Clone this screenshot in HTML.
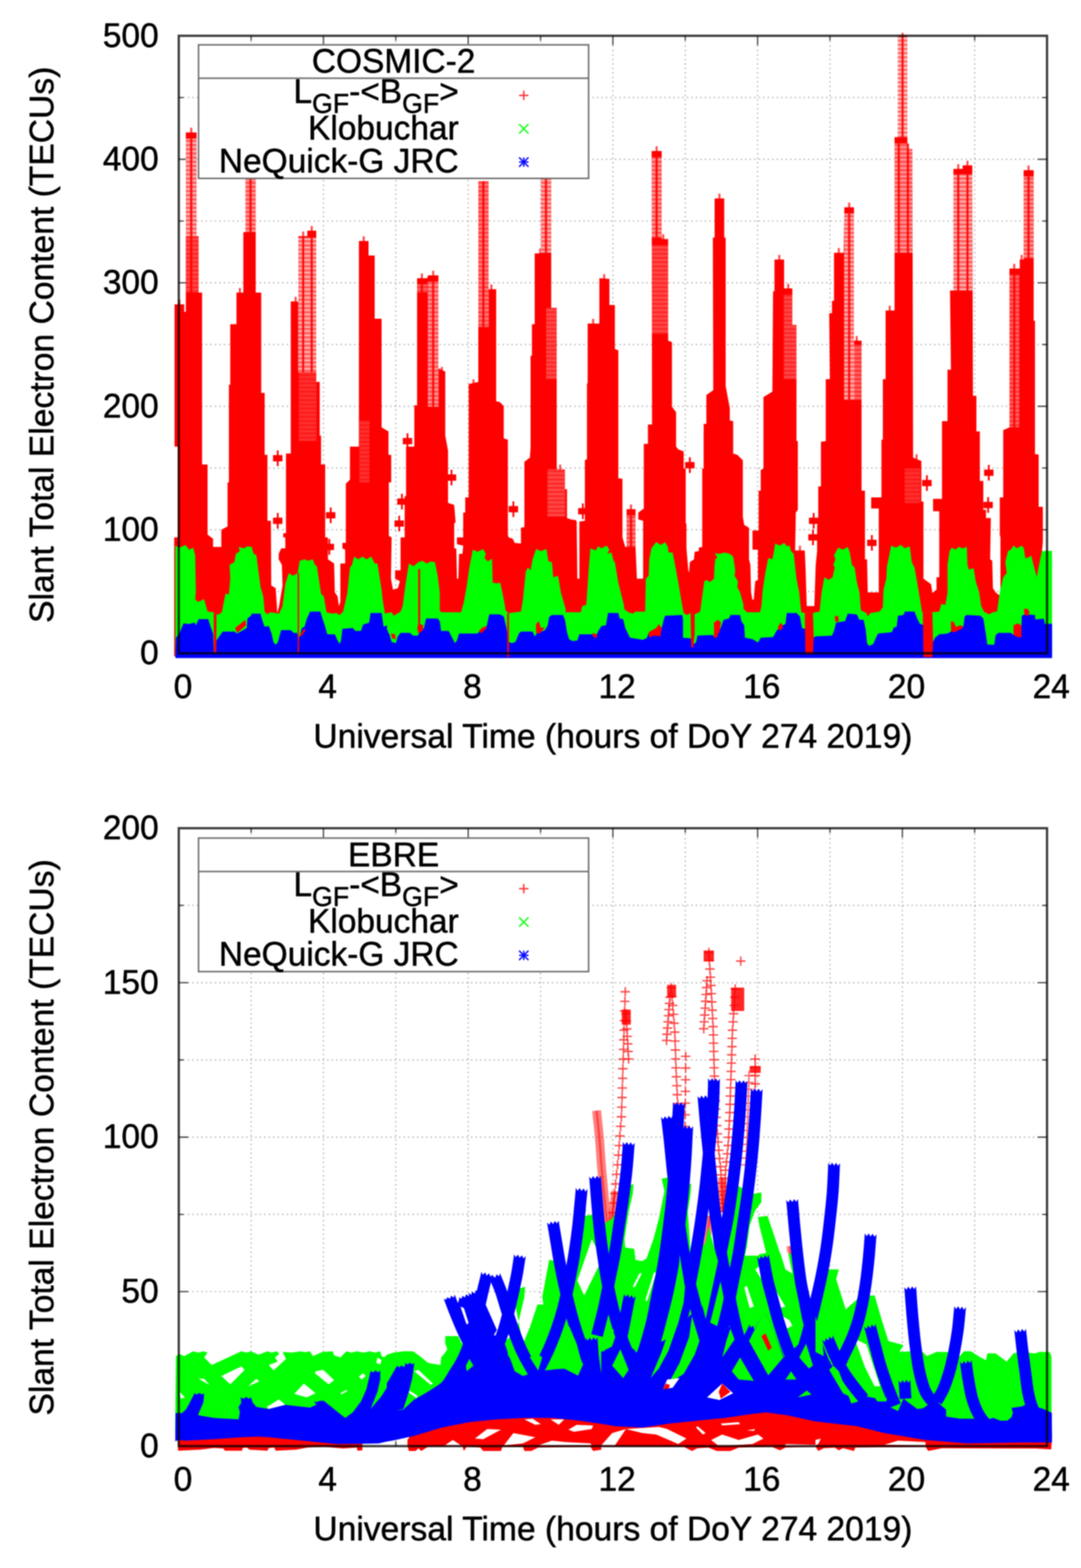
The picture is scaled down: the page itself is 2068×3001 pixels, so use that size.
<!DOCTYPE html>
<html lang="en"><head><meta charset="utf-8"><title>Slant Total Electron Content - COSMIC-2 and EBRE</title>
<style>html,body{margin:0;padding:0;background:#fff}body{width:2068px;height:3001px;overflow:hidden}svg{display:block;font-family:'Liberation Sans', sans-serif;filter:blur(1.1px)}</style></head><body>
<svg width="2068" height="3001" viewBox="0 0 2068 3001">
<defs><pattern id="st" width="8" height="8" patternUnits="userSpaceOnUse"><rect width="8" height="8" fill="#fff" fill-opacity="0.55"/><rect y="0" width="8" height="3.4" fill="#fff"/></pattern></defs>
<rect width="2068" height="3001" fill="#fff"/>
<g id="panel-top">
<g stroke="#acacac" stroke-width="2.2" stroke-dasharray="2.6 6" fill="none">
<path d="M480.4 1250.3 V68.5"/>
<path d="M618.8 1250.3 V68.5"/>
<path d="M757.2 1250.3 V68.5"/>
<path d="M895.7 1250.3 V68.5"/>
<path d="M1034.1 1250.3 V68.5"/>
<path d="M1172.5 1250.3 V68.5"/>
<path d="M1310.9 1250.3 V68.5"/>
<path d="M1449.3 1250.3 V68.5"/>
<path d="M1587.8 1250.3 V68.5"/>
<path d="M1726.2 1250.3 V68.5"/>
<path d="M1864.6 1250.3 V68.5"/>
<path d="M342 1132.1 H2003"/>
<path d="M342 1013.9 H2003"/>
<path d="M342 895.8 H2003"/>
<path d="M342 777.6 H2003"/>
<path d="M342 659.4 H2003"/>
<path d="M342 541.2 H2003"/>
<path d="M342 423 H2003"/>
<path d="M342 304.9 H2003"/>
<path d="M342 186.7 H2003"/>
</g>
<g stroke="#505050" stroke-width="2.6" fill="none">
<path d="M480.4 1250.3 v-9 M480.4 68.5 v9"/>
<path d="M618.8 1250.3 v-18 M618.8 68.5 v18"/>
<path d="M757.2 1250.3 v-9 M757.2 68.5 v9"/>
<path d="M895.7 1250.3 v-18 M895.7 68.5 v18"/>
<path d="M1034.1 1250.3 v-9 M1034.1 68.5 v9"/>
<path d="M1172.5 1250.3 v-18 M1172.5 68.5 v18"/>
<path d="M1310.9 1250.3 v-9 M1310.9 68.5 v9"/>
<path d="M1449.3 1250.3 v-18 M1449.3 68.5 v18"/>
<path d="M1587.8 1250.3 v-9 M1587.8 68.5 v9"/>
<path d="M1726.2 1250.3 v-18 M1726.2 68.5 v18"/>
<path d="M1864.6 1250.3 v-9 M1864.6 68.5 v9"/>
<path d="M342 1132.1 h9 M2003 1132.1 h-9"/>
<path d="M342 1013.9 h18 M2003 1013.9 h-18"/>
<path d="M342 895.8 h9 M2003 895.8 h-9"/>
<path d="M342 777.6 h18 M2003 777.6 h-18"/>
<path d="M342 659.4 h9 M2003 659.4 h-9"/>
<path d="M342 541.2 h18 M2003 541.2 h-18"/>
<path d="M342 423 h9 M2003 423 h-9"/>
<path d="M342 304.9 h18 M2003 304.9 h-18"/>
<path d="M342 186.7 h9 M2003 186.7 h-9"/>
</g>
<g id="top-data">
<polygon fill="#ff0000" points="333.2,1257.4 333.2,1028.4 340,1028.4 340,854.7 333.9,854.7 333.9,582.4 352.4,582.4 352.4,596.8 355.5,596.8 355.5,253.4 376.1,253.4 376.1,452.1 380,452.1 380,560 386.6,560 386.6,888.9 397.1,888.9 397.1,1023.2 407.6,1031.1 407.6,1046.8 423.4,1046.8 423.4,1013.9 435.3,1007.4 435.3,923.2 437.9,923.2 437.9,736.3 440.5,736.3 440.5,620.5 452.4,620.5 452.4,560 465.5,560 465.5,444.2 469.5,444.2 469.5,323.2 489.2,323.2 489.2,560 499.7,560 499.7,752.1 506.3,752.1 506.3,870.5 511.6,870.5 511.6,996.8 518.2,996.8 518.9,1120.5 527.4,1125.8 530.5,1173.2 533.9,1160 540.5,1120.5 539.2,1081.1 533.2,1070.5 533.2,1060 537.9,1049.5 545.8,1049.5 545.8,1028.4 541.8,1028.4 541.8,1020.5 547.1,1020.5 547.1,867.9 556.3,867.9 556.3,577.1 570.8,577.1 570.8,452.1 587.9,452.1 587.9,441.6 605,441.6 605,731.1 611.6,731.1 611.6,833.7 614.2,833.7 614.2,888.9 622.1,888.9 622.1,1028.4 627.4,1028.4 627.4,1070.5 639.2,1078.4 640.5,1133.7 645.8,1141.6 648.4,1160 651.1,1152.1 651.1,1078.4 660.3,1078.4 660.3,1052.1 655,1049.5 655,1038.9 661.6,1038.9 661.6,925.8 669.5,917.9 669.5,854.7 686.6,854.7 686.6,461.3 705,461.3 705,488.9 716.8,488.9 716.8,610 730,610 730,817.9 743.2,825.8 743.2,870.5 748.4,870.5 748.4,923.2 743.9,923.2 743.9,1025.8 749.2,1028.4 747.9,1107.4 751.8,1128.4 761.1,1125.8 765,1112.6 755.8,1107.4 755.8,1091.6 766.3,1091.6 766.3,1028.4 774.2,1028.4 774.2,949.5 776.8,949.5 776.8,854.7 792.6,854.7 792.6,775.8 797.9,775.8 797.9,532.4 817.1,532.4 818.9,527.1 838.7,527.1 838.7,704.7 851.8,711.3 851.8,833.7 857.1,862.6 857.1,962.6 868.9,966.6 871.6,999.5 868.9,1002.1 868.9,1049.5 872.9,1049.5 874.2,1107.4 876.8,1107.4 878.2,1060 884.7,1060 886.1,1044.2 874.2,1041.6 874.2,1028.4 886.1,1028.4 886.1,981.1 890,981.1 890,952.1 896.6,952.1 896.6,735 915,731.1 915,346.8 934.7,346.8 934.7,553.4 949.2,553.4 949.2,767.9 955.8,769.2 963.7,777.1 963.7,838.9 971.6,841.6 971.6,1023.2 972.9,1028.4 980.8,1031.1 984.7,1038.9 996.6,1040.3 996.6,1010 1003.2,1008.7 1003.2,883.7 1013.7,875.8 1015,857.4 1015,681.1 1017.6,681.1 1017.6,620.5 1022.9,620.5 1022.9,485 1034.7,485 1034.7,323.2 1054.5,323.2 1054.5,588.9 1065,588.9 1065,898.2 1080.8,898.2 1080.8,936.3 1084.7,936.3 1084.7,991.6 1092.6,994.2 1101.8,995.5 1103.2,998.2 1104.5,1107.4 1108.4,1107.4 1108.4,998.2 1118.9,996.8 1118.9,881.1 1122.9,878.4 1122.9,733.7 1124.2,733.7 1124.2,619.2 1146.6,619.2 1146.6,532.4 1165.8,533.7 1165.8,583.7 1176.3,583.7 1176.3,667.9 1182.9,670.5 1182.9,915.3 1190.8,916.6 1190.8,1028.4 1196.1,1046.8 1198.7,1046.8 1198.7,974.5 1215.8,974.5 1215.8,1046.8 1218.4,1107.4 1230.3,1107.4 1230.3,996.8 1221.1,994.2 1221.1,981.1 1231.6,973.2 1231.6,849.5 1239.5,849.5 1239.5,812.6 1247.4,812.6 1246.6,288.9 1265.8,288.9 1265.8,457.4 1278.2,457.4 1278.2,652.1 1285.5,654.7 1285.5,778.4 1293.4,788.9 1293.4,854.7 1297.4,860 1307.9,863.9 1307.9,896.8 1311.8,896.8 1311.8,1002.1 1313.2,1002.1 1313.2,1049.5 1317.1,1094.2 1318.4,1094.2 1319.7,1075.8 1327.6,1070.5 1328.9,1056.1 1336.8,1054.7 1336.8,1048.2 1343.4,1046.8 1343.4,896.8 1346.1,896.8 1346.1,811.3 1351.3,811.3 1351.3,756.1 1364.5,746.8 1363.7,454.7 1367.1,454.7 1367.1,379.7 1385.5,379.7 1385.5,454.7 1388.2,454.7 1388.2,738.9 1396.1,781.1 1396.1,804.7 1402.6,806.1 1402.6,867.9 1410.5,870.5 1421.1,881.1 1421.1,988.9 1423.7,1004.7 1432.9,1010 1432.9,1070.5 1435.5,1081.1 1436.8,1133.7 1439.5,1148.2 1442.1,1146.8 1444.7,1112.6 1450,1110 1450,1052.1 1439.5,1052.1 1439.5,1015.3 1451.3,1015.3 1451.3,938.9 1455.3,938.9 1455.3,899.5 1460.5,896.8 1460.5,760 1477.6,749.5 1478.9,557.4 1481.6,557.4 1481.6,496.8 1500,496.8 1500,552.1 1515.8,552.1 1515.8,621.8 1523.7,621.8 1523.7,844.2 1526.3,844.2 1526.3,975.8 1522.4,981.1 1521.1,1053.4 1539.5,1053.4 1540.8,1081.1 1543.4,1160 1557.9,1160 1560.5,1081.1 1563.2,1054.7 1563.2,1007.4 1565.3,994.2 1565.3,931.1 1570.5,931.1 1570.5,845.5 1579.7,844.2 1579.7,725.8 1587.6,725.8 1586.3,599.5 1591.6,599.5 1591.6,575.8 1595.5,575.8 1595.5,483.7 1613.9,483.7 1615.3,396.8 1633.7,396.8 1633.7,652.1 1648.2,652.1 1648.2,938.9 1654.7,938.9 1654.7,1070.5 1658.7,1070.5 1660,1133.7 1681.1,1133.7 1681.1,973.2 1666.6,973.2 1666.6,952.1 1686.3,952.1 1686.3,841.6 1688.9,841.6 1688.9,725.8 1694.2,725.8 1694.2,594.2 1711.3,594.2 1711.3,262.6 1717.4,262.6 1717.4,67.4 1735.8,67.4 1735.8,285 1745.5,285 1746.8,875.8 1753.4,878.4 1762.6,882.4 1762.6,960 1766.6,960 1766.6,1107.4 1781.1,1117.9 1783.7,1135 1791.6,1128.4 1791.6,1104.7 1796.8,1104.7 1796.8,978.4 1785,978.4 1785,954.7 1802.1,954.7 1802.1,806.1 1812.6,806.1 1812.6,707.4 1819.2,707.4 1817.4,556.1 1823.9,556.1 1823.9,323.2 1841.6,323.2 1841.6,316.6 1860,316.6 1861.3,757.4 1867.9,757.4 1867.9,825.8 1874.5,825.8 1874.5,920.5 1881.1,920.5 1881.1,975.8 1886.3,975.8 1886.3,991.6 1895.5,991.6 1894.2,1070.5 1898.2,1073.2 1899.5,1125.8 1904.7,1133.7 1911.3,1138.9 1913.9,1138.9 1913.9,1028.4 1912.6,1023.2 1912.6,952.1 1919.2,952.1 1919.2,823.2 1931.1,817.9 1931.1,513.9 1950.8,513.9 1950.8,496.8 1958.2,496.8 1958.2,325.8 1977.5,325.8 1977.5,614 1980,614 1980,869 1987,870 1987,970 1995,970 1995,1037 1993,1060 1993,1256 1993,1256 333.2,1256"/>
<g fill="#ff0000">
<path d="M522.3 871.1 h18 v12 h-18z M529.6 862.1 h3.4 v30 h-3.4z"/>
<path d="M522.3 990.8 h18 v12 h-18z M529.6 981.8 h3.4 v30 h-3.4z"/>
<path d="M623.6 980.3 h18 v12 h-18z M630.9 971.3 h3.4 v30 h-3.4z"/>
<path d="M621 1040.8 h18 v12 h-18z M628.3 1031.8 h3.4 v30 h-3.4z"/>
<path d="M770.5 838.2 h18 v12 h-18z M777.8 829.2 h3.4 v30 h-3.4z"/>
<path d="M759.9 954 h18 v12 h-18z M767.2 945 h3.4 v30 h-3.4z"/>
<path d="M754.7 996.1 h18 v12 h-18z M762 987.1 h3.4 v30 h-3.4z"/>
<path d="M854.7 907.9 h18 v12 h-18z M862 898.9 h3.4 v30 h-3.4z"/>
<path d="M973.1 968.5 h18 v12 h-18z M980.4 959.5 h3.4 v30 h-3.4z"/>
<path d="M1106 972.4 h18 v12 h-18z M1113.3 963.4 h3.4 v30 h-3.4z"/>
<path d="M1310.7 884.3 h18 v12 h-18z M1318 875.3 h3.4 v30 h-3.4z"/>
<path d="M1547.6 990.8 h18 v12 h-18z M1554.9 981.8 h3.4 v30 h-3.4z"/>
<path d="M1546.3 1022.4 h18 v12 h-18z M1553.6 1013.4 h3.4 v30 h-3.4z"/>
<path d="M1658.9 1032.9 h18 v12 h-18z M1666.2 1023.9 h3.4 v30 h-3.4z"/>
<path d="M1764.2 918.5 h18 v12 h-18z M1771.5 909.5 h3.4 v30 h-3.4z"/>
<path d="M1882.6 898.7 h18 v12 h-18z M1889.9 889.7 h3.4 v30 h-3.4z"/>
<path d="M1881.3 960.6 h18 v12 h-18z M1888.6 951.6 h3.4 v30 h-3.4z"/>
</g>
<g fill="#ff0000" fill-opacity="0.7">
<rect x="1724.6" y="62.8" width="4" height="10"/>
<rect x="363.8" y="244.4" width="4" height="10"/>
<rect x="578" y="443.1" width="4" height="10"/>
<rect x="594.3" y="432.6" width="4" height="10"/>
<rect x="693.8" y="452.3" width="4" height="10"/>
<rect x="341.2" y="573.4" width="4" height="10"/>
<rect x="456.9" y="551" width="4" height="10"/>
<rect x="563.5" y="568.1" width="4" height="10"/>
<rect x="805.1" y="523.4" width="4" height="10"/>
<rect x="826.7" y="518.1" width="4" height="10"/>
<rect x="938" y="544.4" width="4" height="10"/>
<rect x="1031.4" y="476" width="4" height="10"/>
<rect x="1132.7" y="610.2" width="4" height="10"/>
<rect x="903.8" y="726" width="4" height="10"/>
<rect x="843.3" y="702.3" width="4" height="10"/>
<rect x="1069.6" y="889.2" width="4" height="10"/>
<rect x="1153.8" y="524.7" width="4" height="10"/>
<rect x="1254.1" y="279.9" width="4" height="10"/>
<rect x="1266.7" y="448.4" width="4" height="10"/>
<rect x="1374.3" y="370.7" width="4" height="10"/>
<rect x="1488.8" y="487.8" width="4" height="10"/>
<rect x="1505.9" y="543.1" width="4" height="10"/>
<rect x="1205.1" y="965.5" width="4" height="10"/>
<rect x="1528.3" y="1044.4" width="4" height="10"/>
<rect x="1602.7" y="474.7" width="4" height="10"/>
<rect x="1622.5" y="387.8" width="4" height="10"/>
<rect x="1717.5" y="253.6" width="4" height="10"/>
<rect x="1700.1" y="585.2" width="4" height="10"/>
<rect x="1831.2" y="314.2" width="4" height="10"/>
<rect x="1848.8" y="307.6" width="4" height="10"/>
<rect x="1824.3" y="547.1" width="4" height="10"/>
<rect x="1965.6" y="316.8" width="4" height="10"/>
<rect x="1938.3" y="504.9" width="4" height="10"/>
<rect x="1952.5" y="487.8" width="4" height="10"/>
<rect x="1636.9" y="643.1" width="4" height="10"/>
<rect x="1751.4" y="869.4" width="4" height="10"/>
</g>
<rect x="355" y="265.3" width="21.5" height="186.8" fill="url(#st)" opacity="0.7"/>
<rect x="363.8" y="265.3" width="4" height="186.8" fill="#ff0000" fill-opacity="0.9"/>
<rect x="355.8" y="452.1" width="24.7" height="107.9" fill="url(#st)" opacity="0.3"/>
<rect x="363.8" y="452.1" width="4" height="107.9" fill="#ff0000" fill-opacity="0.9"/>
<rect x="469" y="341.6" width="20.7" height="102.6" fill="url(#st)" opacity="0.6"/>
<rect x="477.2" y="341.6" width="4" height="102.6" fill="#ff0000" fill-opacity="0.9"/>
<rect x="570.3" y="454.7" width="35.2" height="257.9" fill="url(#st)" opacity="0.7"/>
<rect x="578" y="454.7" width="4" height="257.9" fill="#ff0000" fill-opacity="0.9"/>
<rect x="594.3" y="454.7" width="4" height="257.9" fill="#ff0000" fill-opacity="0.9"/>
<rect x="571.6" y="712.6" width="33.9" height="131.6" fill="url(#st)" opacity="0.2"/>
<rect x="687.4" y="804.7" width="19.4" height="118.4" fill="url(#st)" opacity="0.2"/>
<rect x="797.4" y="544.2" width="20.2" height="15.8" fill="url(#st)" opacity="0.4"/>
<rect x="805.1" y="544.2" width="4" height="15.8" fill="#ff0000" fill-opacity="0.9"/>
<rect x="818.4" y="538.9" width="20.7" height="239.5" fill="url(#st)" opacity="0.6"/>
<rect x="826.7" y="538.9" width="4" height="239.5" fill="#ff0000" fill-opacity="0.9"/>
<rect x="914.5" y="346.8" width="20.7" height="278.9" fill="url(#st)" opacity="0.5"/>
<rect x="922.7" y="346.8" width="4" height="278.9" fill="#ff0000" fill-opacity="0.9"/>
<rect x="1034.2" y="342.9" width="20.7" height="140.8" fill="url(#st)" opacity="0.7"/>
<rect x="1042.5" y="342.9" width="4" height="140.8" fill="#ff0000" fill-opacity="0.9"/>
<rect x="1044.8" y="588.9" width="20.7" height="136.8" fill="url(#st)" opacity="0.3"/>
<rect x="1047.4" y="898.2" width="33.9" height="90.8" fill="url(#st)" opacity="0.3"/>
<rect x="1246.1" y="300.8" width="20.2" height="153.9" fill="url(#st)" opacity="0.6"/>
<rect x="1254.1" y="300.8" width="4" height="153.9" fill="#ff0000" fill-opacity="0.9"/>
<rect x="1246.1" y="469.2" width="32.6" height="169.7" fill="url(#st)" opacity="0.3"/>
<rect x="1499.5" y="563.9" width="24.7" height="161.8" fill="url(#st)" opacity="0.3"/>
<rect x="1198.2" y="986.3" width="18.1" height="60.5" fill="url(#st)" opacity="0.5"/>
<rect x="1205.1" y="986.3" width="4" height="60.5" fill="#ff0000" fill-opacity="0.9"/>
<rect x="1614.8" y="408.7" width="19.4" height="356.6" fill="url(#st)" opacity="0.7"/>
<rect x="1622.5" y="408.7" width="4" height="356.6" fill="#ff0000" fill-opacity="0.9"/>
<rect x="1633.2" y="660" width="15.5" height="105.3" fill="url(#st)" opacity="0.4"/>
<rect x="1716.9" y="67.4" width="19.4" height="195.3" fill="url(#st)" opacity="0.8"/>
<rect x="1724.6" y="67.4" width="4" height="195.3" fill="#ff0000" fill-opacity="0.9"/>
<rect x="1710.8" y="274.5" width="35.2" height="209.2" fill="url(#st)" opacity="0.6"/>
<rect x="1717.5" y="274.5" width="4" height="209.2" fill="#ff0000" fill-opacity="0.9"/>
<rect x="1734.8" y="274.5" width="4" height="209.2" fill="#ff0000" fill-opacity="0.9"/>
<rect x="1823.4" y="333.7" width="37.1" height="222.4" fill="url(#st)" opacity="0.7"/>
<rect x="1831.2" y="333.7" width="4" height="222.4" fill="#ff0000" fill-opacity="0.9"/>
<rect x="1848.8" y="333.7" width="4" height="222.4" fill="#ff0000" fill-opacity="0.9"/>
<rect x="1957.7" y="337.6" width="19.9" height="156.6" fill="url(#st)" opacity="0.6"/>
<rect x="1965.6" y="337.6" width="4" height="156.6" fill="#ff0000" fill-opacity="0.9"/>
<rect x="1930.6" y="525.8" width="19.4" height="292.1" fill="url(#st)" opacity="0.4"/>
<rect x="1938.3" y="525.8" width="4" height="292.1" fill="#ff0000" fill-opacity="0.9"/>
<rect x="1730.6" y="896.8" width="29.9" height="65.8" fill="url(#st)" opacity="0.2"/>
<polygon fill="#00ff00" points="335.5,1256 335.3,1044.2 343.2,1048.2 355,1042.9 361.6,1052.1 369.5,1048.2 373.4,1062.6 374.7,1133.7 373.4,1146.8 378.7,1152.1 390.5,1146.8 397.1,1170.5 408.9,1171.8 411.6,1175.8 419.5,1175.8 424.7,1170.5 431.3,1136.3 437.9,1137.6 440.5,1107.4 439.2,1081.1 448.4,1075.8 451.1,1060 458.9,1054.7 456.3,1046.8 466.8,1049.5 473.4,1045.5 481.3,1046.8 485.3,1060 490.5,1062.6 498.4,1123.2 503.7,1141.6 506.3,1170.5 511.6,1175.8 516.8,1171.8 527.4,1173.2 533.9,1174.5 540.5,1160 545.8,1117.9 552.4,1096.8 560.3,1102.1 569.5,1096.8 573.4,1073.2 582.6,1070.5 589.2,1073.2 598.4,1070.5 602.4,1081.1 606.3,1083.7 614.2,1136.3 619.5,1141.6 624.7,1171.8 635.3,1174.5 643.2,1173.2 649.7,1177.1 656.3,1170.5 664.2,1136.3 669.5,1086.3 673.4,1081.1 677.4,1065.3 685.3,1070.5 693.2,1065.3 701.1,1070.5 710.3,1065.3 716.8,1078.4 722.1,1078.4 730,1128.4 732.6,1152.1 736.6,1174.5 740,1173.2 749.2,1171.8 753.2,1178.4 766.3,1170.5 770.3,1160 775.5,1120.5 782.1,1078.4 791.3,1083.7 800.5,1075.8 808.4,1073.2 816.3,1078.4 824.2,1074.5 832.1,1075.8 837.4,1102.1 841.3,1133.7 841.3,1167.9 843.9,1171.8 882.1,1171.8 887.4,1152.1 892.6,1123.2 897.9,1086.3 904.5,1052.1 913.7,1056.1 924.2,1050.8 929.5,1060 926.8,1067.9 933.4,1074.5 941.3,1069.2 942.6,1115.3 950.5,1116.6 957.1,1115.3 963.7,1146.8 967.6,1169.2 974.2,1173.2 996.6,1170.5 1000.5,1146.8 1005.8,1094.2 1009.7,1086.3 1015,1091.6 1018.9,1070.5 1025.5,1050.8 1034.7,1054.7 1045.3,1050.8 1049.2,1074.5 1055.8,1075.8 1058.4,1104.7 1067.6,1102.1 1072.9,1133.7 1082.1,1165.3 1082.1,1171.8 1111.1,1171.8 1113.7,1160 1121.6,1157.4 1126.8,1081.1 1129.5,1049.5 1140,1053.4 1143.9,1045.5 1150.5,1049.5 1160.5,1044.2 1165.8,1052.1 1161.8,1060 1169.7,1057.4 1173.7,1073.2 1176.3,1075.8 1182.9,1115.3 1193.4,1157.4 1194.7,1166.6 1202.6,1171.8 1210.5,1174.5 1215.8,1170.5 1234.2,1170.5 1235.5,1107.4 1240.8,1102.1 1242.1,1070.5 1246.1,1049.5 1255.3,1037.6 1264.5,1042.9 1272.4,1037.6 1277.6,1046.8 1278.9,1057.4 1286.8,1057.4 1293.4,1091.6 1300,1128.4 1305.3,1160 1307.9,1173.2 1314.5,1177.1 1321.1,1173.2 1328.9,1175.8 1339.5,1170.5 1343.4,1141.6 1347.4,1112.6 1351.3,1110 1357.9,1113.9 1365.8,1107.4 1367.1,1081.1 1368.4,1070.5 1372.4,1066.6 1367.1,1058.7 1376.3,1060 1386.8,1057.4 1396.1,1060 1402.6,1065.3 1406.6,1091.6 1405.3,1102.1 1411.8,1112.6 1410.5,1123.2 1415.8,1133.7 1422.4,1157.4 1422.4,1165.3 1428.9,1171.8 1453.9,1171.8 1456.6,1160 1459.2,1128.4 1464.5,1094.2 1469.7,1067.9 1477.6,1070.5 1480.3,1057.4 1482.9,1040.3 1492.1,1044.2 1500,1038.9 1505.3,1045.5 1510.5,1044.2 1513.2,1054.7 1518.4,1060 1523.7,1107.4 1528.9,1133.7 1531.6,1160 1532.9,1171.8 1539.5,1173.2 1555.3,1173.2 1560,1171.8 1567.9,1170.5 1571.8,1133.7 1577.1,1104.7 1585,1110 1592.9,1104.7 1596.8,1086.3 1594.2,1081.1 1598.2,1070.5 1595.5,1062.6 1603.4,1048.2 1612.6,1052.1 1621.8,1046.8 1625.8,1057.4 1629.7,1081.1 1635,1086.3 1638.9,1112.6 1644.2,1133.7 1646.8,1167.9 1657.4,1173.2 1660,1179.7 1665.3,1173.2 1682.4,1170.5 1688.9,1162.6 1690.3,1128.4 1695.5,1107.4 1696.8,1083.7 1700.8,1065.3 1704.7,1044.2 1713.9,1048.2 1723.2,1042.9 1731.1,1049.5 1740.3,1045.5 1744.2,1075.8 1749.5,1086.3 1756.1,1123.2 1761.3,1154.7 1763.9,1171.8 1783.7,1171.8 1796.8,1170.5 1800.8,1156.1 1808.7,1157.4 1812.6,1133.7 1812.6,1081.1 1816.6,1054.7 1820.5,1048.2 1828.4,1052.1 1833.7,1046.8 1841.6,1049.5 1849.5,1046.8 1850.8,1081.1 1853.4,1090.3 1862.6,1087.6 1866.6,1112.6 1873.2,1133.7 1877.1,1160 1882.4,1170.5 1891.6,1175.8 1899.5,1171.8 1907.4,1170.5 1912.6,1133.7 1919.2,1104.7 1925.8,1096.8 1923.2,1075.8 1928.4,1054.7 1933.7,1052.1 1938.9,1044.2 1945.5,1049.5 1954.7,1044.2 1958.7,1049.5 1961.3,1067.9 1966.6,1067.2 1972.8,1063.6 1977.2,1081.3 1983.4,1104.3 1987.8,1081.3 1993.1,1054.8 2012.6,1053.9 2012.6,1256"/>
<polygon fill="#0000ff" points="335.5,1259.5 336.6,1220.5 343.2,1212.6 351.1,1192.9 361.6,1194.2 372.1,1191.6 374.7,1196.8 380,1185 398.4,1185 403.7,1202.1 407.6,1212.6 408.9,1249.5 412.9,1249.5 414.2,1225.8 419.5,1217.9 426.1,1208.7 448.4,1208.7 453.7,1212.6 472.1,1202.1 473.4,1183.7 480,1178.4 481.3,1174.5 498.4,1174.5 502.4,1188.9 506.3,1199.5 514.2,1198.2 519.5,1212.6 523.4,1229.7 527.4,1233.7 531.3,1229.7 537.9,1206.1 556.3,1206.1 561.6,1211.3 568.2,1211.3 570.8,1223.2 573.4,1217.9 577.4,1202.1 582.6,1199.5 586.6,1185 593.2,1170.5 612.9,1170.5 616.8,1183.7 622.1,1199.5 626.1,1213.9 640.5,1213.9 645.8,1225.8 649.7,1232.4 652.4,1225.8 655,1203.4 674.7,1202.1 680,1207.4 690.5,1207.4 694.5,1195.5 706.3,1191.6 708.9,1173.2 730,1173.2 733.9,1199.5 740.5,1196.8 740,1203.4 745.3,1215.3 749.2,1228.4 757.1,1231.1 761.1,1217.9 766.3,1211.3 784.7,1211.3 790,1216.6 799.2,1216.6 803.2,1210 811.1,1202.1 815,1183.7 837.4,1183.7 841.3,1188.9 843.9,1207.4 858.4,1207.4 863.7,1217.9 870.3,1231.1 874.2,1225.8 878.2,1212.6 913.7,1212.6 921.6,1203.4 930.8,1199.5 936.1,1175.8 955.8,1175.8 963.7,1179.7 968.9,1202.1 972.9,1228.4 979.5,1231.1 986.1,1228.4 992.6,1212.6 996.6,1208.7 1018.9,1208.7 1022.9,1217.9 1026.8,1212.6 1042.6,1206.1 1047.9,1196.8 1050.5,1181.1 1055.8,1177.1 1076.8,1177.1 1080.8,1186.3 1084.7,1210 1088.7,1223.2 1095.3,1227.1 1104.5,1225.8 1108.4,1213.9 1132.1,1213.9 1140,1217.9 1143.9,1208.7 1150.5,1198.2 1150,1198.2 1159.2,1196.8 1163.2,1173.2 1182.9,1173.2 1185.5,1183.7 1192.1,1185 1196.1,1202.1 1202.6,1215.3 1205.3,1220.5 1228.9,1224.5 1236.8,1221.8 1240.8,1212.6 1265.8,1202.1 1269.7,1186.3 1272.4,1178.4 1305.3,1177.1 1306.6,1186.3 1306.6,1220.5 1321.1,1221.8 1325,1233.7 1331.6,1229.7 1334.2,1216.6 1363.2,1215.3 1368.4,1220.5 1378.9,1202.1 1384.2,1186.3 1394.7,1183.7 1397.4,1177.1 1415.8,1177.1 1418.4,1188.9 1423.7,1196.8 1425,1220.5 1439.5,1223.2 1450,1229.7 1455.3,1220.5 1478.9,1219.2 1485.5,1207.4 1492.1,1199.5 1502.6,1194.2 1505.3,1173.2 1523.7,1173.2 1530.3,1179.7 1534.2,1202.1 1539.5,1203.4 1556.6,1220.5 1560,1217.9 1591.6,1216.6 1595.5,1207.4 1599.5,1191.6 1616.6,1188.9 1621.8,1174.5 1638.9,1175.8 1644.2,1186.3 1652.1,1186.3 1656.1,1204.7 1658.7,1231.1 1662.6,1236.3 1670.5,1232.4 1675.8,1220.5 1679.7,1212.6 1706.1,1210 1710,1200.8 1715.3,1199.5 1717.9,1178.4 1728.4,1177.1 1731.1,1170.5 1749.5,1170.5 1754.7,1183.7 1760,1194.2 1765.3,1195.5 1785,1228.4 1788.9,1220.5 1796.8,1213.9 1812.6,1212.6 1819.2,1208.7 1831.1,1204.7 1836.3,1196.8 1842.9,1199.5 1845.5,1179.7 1849.5,1177.1 1875.8,1178.4 1881.1,1183.7 1885,1207.4 1888.9,1233.7 1902.1,1233.7 1904.7,1215.3 1910,1211.3 1933.7,1211.3 1938.9,1215.3 1953.4,1217.9 1954.7,1178.4 1960,1175.8 1980,1177.1 1980.7,1185.8 1996.7,1184 1999.3,1194.6 2012.6,1193.7 2012.6,1259.5"/>
<g fill="#ff0000">
<polygon points="408.9,1173.2 414.2,1173.2 413.7,1249.5 408.9,1249.5"/>
<polygon points="569.5,1096.8 572.1,1096.8 572.1,1249.5 569.5,1249.5"/>
<polygon points="449.7,1202.1 469.5,1186.3 470.8,1196.8 453.7,1211.3"/>
<polygon points="573.4,1215.3 582.6,1202.1 583.9,1207.4 576.1,1217.9"/>
<polygon points="800,1088.9 803.7,1088.9 803.7,1194.2 809.7,1196.8 808.4,1207.4 800.5,1212.6 798.4,1202.1 800,1194.2"/>
<polygon points="747.9,1212.6 755.8,1213.9 757.1,1223.2 750.5,1221.8"/>
<polygon points="970.3,1173.2 973.7,1173.2 973.7,1257.4 970.3,1257.4"/>
<polygon points="1025.5,1194.2 1030.8,1188.9 1034.7,1202.1 1042.6,1200.8 1032.1,1212.6 1025.5,1211.3"/>
<polygon points="1133.4,1211.3 1141.3,1213.9 1142.6,1220.5 1134.7,1219.2"/>
<polygon points="916.3,1207.4 921.6,1202.1 929.5,1198.2 930.8,1202.1 920.3,1212.6"/>
<polygon points="1321.1,1173.2 1328.9,1174.5 1328.9,1212.6 1326.3,1238.9 1322.4,1238.9"/>
<polygon points="1240.8,1210 1255.3,1202.1 1260.5,1194.2 1265.8,1202.1 1263.2,1217.9 1250,1216.6 1242.1,1220.5"/>
<polygon points="1365.8,1191.6 1373.7,1186.3 1378.9,1191.6 1377.6,1204.7 1371.1,1220.5 1365.8,1220.5"/>
<polygon points="1488.2,1199.5 1493.4,1191.6 1497.4,1196.8 1496.1,1204.7 1489.5,1206.1"/>
<polygon points="1539.5,1173.2 1555.3,1173.2 1556.6,1220.5 1555.3,1252.1 1540.8,1252.1"/>
<polygon points="1765.3,1171.8 1783.7,1171.8 1785,1228.4 1783.7,1257.4 1766.6,1257.4"/>
<polygon points="1596.8,1179.7 1603.4,1178.4 1604.7,1188.9 1598.2,1190.3"/>
<polygon points="1819.2,1188.9 1824.5,1190.3 1828.4,1199.5 1838.9,1196.8 1842.9,1202.1 1825.8,1210 1819.2,1208.7"/>
<polygon points="1938.9,1196.8 1946.8,1192.9 1953.4,1196.8 1953.4,1219.2 1938.9,1215.3"/>
<polygon points="1960,1166.6 1966.6,1165.3 1967.9,1177.1 1960,1177.1"/>
<polygon points="1940,1196.4 1947.1,1193.7 1953.3,1196.4 1954.2,1219.4 1948,1219.4 1940,1215.9"/>
<polygon points="1958.6,1166.3 1963,1164.5 1969.2,1169.8 1968.3,1176.9 1963,1178.7 1959.5,1173.4"/>
</g>
</g>
<rect x="342" y="68.5" width="1661" height="1181.8" fill="none" stroke="#3c3c3c" stroke-width="4.4" style="mix-blend-mode:multiply"/>
<g font-size="64" fill="#000" stroke="#000" stroke-width="0.9" stroke-linejoin="round">
<text x="303.5" y="1271.3" text-anchor="end">0</text>
<text x="303.5" y="1034.9" text-anchor="end">100</text>
<text x="303.5" y="798.6" text-anchor="end">200</text>
<text x="303.5" y="562.2" text-anchor="end">300</text>
<text x="303.5" y="325.9" text-anchor="end">400</text>
<text x="303.5" y="89.5" text-anchor="end">500</text>
<text x="350" y="1335.8" text-anchor="middle">0</text>
<text x="626.8" y="1335.8" text-anchor="middle">4</text>
<text x="903.7" y="1335.8" text-anchor="middle">8</text>
<text x="1180.5" y="1335.8" text-anchor="middle">12</text>
<text x="1457.3" y="1335.8" text-anchor="middle">16</text>
<text x="1734.2" y="1335.8" text-anchor="middle">20</text>
<text x="2011" y="1335.8" text-anchor="middle">24</text>
<text x="1172.5" y="1430.8" text-anchor="middle" font-size="64.3">Universal Time (hours of DoY 274 2019)</text>
<text transform="translate(101.5 659.9) rotate(-90)" text-anchor="middle" font-size="64.35">Slant Total Electron Content (TECUs)</text>
</g>
<g>
<rect x="379.8" y="85.8" width="746.2" height="255.6" fill="#fff" stroke="#707070" stroke-width="3"/>
<path d="M379.8 149.8 H1126" stroke="#707070" stroke-width="3" fill="none"/>
<g font-size="64" fill="#000" stroke="#000" stroke-width="0.9" stroke-linejoin="round">
<text x="753" y="139.4" text-anchor="middle">COSMIC-2</text>
<text x="877.5" y="197.1" text-anchor="end">L<tspan font-size="51" dy="19">GF</tspan><tspan dy="-19">-&lt;B</tspan><tspan font-size="51" dy="19">GF</tspan><tspan dy="-19">&gt;</tspan></text>
<text x="877.5" y="266.8" text-anchor="end">Klobuchar</text>
<text x="877.5" y="330" text-anchor="end">NeQuick-G JRC</text>
</g>
<path d="M993 182.6 h18 M1002 173.6 v18" stroke="#ff0000" stroke-width="2.8" stroke-opacity="0.8" fill="none"/>
<path d="M993 237.5 l18 18 M993 255.5 l18 -18" stroke="#00ff00" stroke-width="2.8" stroke-opacity="0.9" fill="none"/>
<path d="M993 310.2 h18 M1002 301.2 v18 M993 301.2 l18 18 M993 319.2 l18 -18" stroke="#0000ff" stroke-width="2.8" stroke-opacity="0.95" fill="none"/>
</g>
</g>
<g id="panel-bottom">
<g stroke="#acacac" stroke-width="2.2" stroke-dasharray="2.6 6" fill="none">
<path d="M480.4 2767.7 V1585.1"/>
<path d="M618.8 2767.7 V1585.1"/>
<path d="M757.2 2767.7 V1585.1"/>
<path d="M895.7 2767.7 V1585.1"/>
<path d="M1034.1 2767.7 V1585.1"/>
<path d="M1172.5 2767.7 V1585.1"/>
<path d="M1310.9 2767.7 V1585.1"/>
<path d="M1449.3 2767.7 V1585.1"/>
<path d="M1587.8 2767.7 V1585.1"/>
<path d="M1726.2 2767.7 V1585.1"/>
<path d="M1864.6 2767.7 V1585.1"/>
<path d="M342 2619.9 H2003"/>
<path d="M342 2472 H2003"/>
<path d="M342 2324.2 H2003"/>
<path d="M342 2176.4 H2003"/>
<path d="M342 2028.6 H2003"/>
<path d="M342 1880.8 H2003"/>
<path d="M342 1732.9 H2003"/>
</g>
<g stroke="#505050" stroke-width="2.6" fill="none">
<path d="M480.4 2767.7 v-9 M480.4 1585.1 v9"/>
<path d="M618.8 2767.7 v-18 M618.8 1585.1 v18"/>
<path d="M757.2 2767.7 v-9 M757.2 1585.1 v9"/>
<path d="M895.7 2767.7 v-18 M895.7 1585.1 v18"/>
<path d="M1034.1 2767.7 v-9 M1034.1 1585.1 v9"/>
<path d="M1172.5 2767.7 v-18 M1172.5 1585.1 v18"/>
<path d="M1310.9 2767.7 v-9 M1310.9 1585.1 v9"/>
<path d="M1449.3 2767.7 v-18 M1449.3 1585.1 v18"/>
<path d="M1587.8 2767.7 v-9 M1587.8 1585.1 v9"/>
<path d="M1726.2 2767.7 v-18 M1726.2 1585.1 v18"/>
<path d="M1864.6 2767.7 v-9 M1864.6 1585.1 v9"/>
<path d="M342 2619.9 h9 M2003 2619.9 h-9"/>
<path d="M342 2472 h18 M2003 2472 h-18"/>
<path d="M342 2324.2 h9 M2003 2324.2 h-9"/>
<path d="M342 2176.4 h18 M2003 2176.4 h-18"/>
<path d="M342 2028.6 h9 M2003 2028.6 h-9"/>
<path d="M342 1880.8 h18 M2003 1880.8 h-18"/>
<path d="M342 1732.9 h9 M2003 1732.9 h-9"/>
</g>
<g id="bottom-data">
<polygon fill="#ff0000" points="340.5,2742.8 693.2,2742.8 693.2,2775.7 683.9,2776.5 682.6,2770.4 656.3,2772.3 619.5,2769.1 587.9,2770.4 566.8,2774.4 527.4,2776.5 524.7,2770.4 514.2,2771.2 511.6,2776.5 477.4,2774.4 472.1,2770.4 464.2,2771.2 462.9,2776.5 430,2776.5 427.4,2772.3 408.9,2771.2 382.6,2774.4 340.5,2776.5"/>
<polygon fill="#ff0000" points="779.5,2755.9 779.5,2766.5 782.1,2777 795.3,2777 800.5,2771.7 805.8,2777 818.9,2769.1 884.7,2767.8 887.4,2777 892.6,2769.1 918.9,2770.4 924.2,2777 958.4,2777 961.1,2769.1 1000.5,2769.1 1003.2,2777 1016.3,2777 1029.5,2770.4 1129.5,2769.1 1134.7,2777 1150.5,2774.4 1150,2769.1 1307.9,2769.1 1323.7,2777 1334.2,2771.7 1355.3,2770.4 1371.1,2777 1397.4,2777 1413.2,2770.4 1476.3,2769.1 1492.1,2775.7 1502.6,2770.4 1560.5,2769.1 1565.3,2777 1575.8,2771.7 1596.8,2770.4 1604.7,2775.7 1612.6,2771.7 1633.7,2777 1636.3,2770.4 1770.5,2769.1 1775.8,2777 1802.1,2771.7 1928.4,2772.3 1980,2772.3 2011,2774 2012.5,2748.8 1954.7,2748.7 1849.5,2750.5 1770.5,2743.9 1691.6,2730.8 1638.9,2717.6 1560,2708.4 1505.3,2696.6 1465.8,2691.3 1439.5,2693.9 1386.8,2701.8 1334.2,2707.1 1281.6,2712.4 1228.9,2720.3 1176.3,2717.6 1150,2712.9 1108.4,2707.1 1055.8,2701.8 1003.2,2701.8 950.5,2704.5 897.9,2709.7 845.3,2720.3 792.6,2736.1"/>
<g fill="#fff">
<polygon points="908.4,2753.3 932.1,2734.9 958.4,2736.2 924.2,2754.6"/>
<polygon points="963.7,2766.5 982.1,2742.8 1024.2,2750.7 1000.5,2762.5"/>
<polygon points="1003.2,2716.5 1018.9,2715.2 1034.7,2725.7 1024.2,2727"/>
<polygon points="1053.2,2716.5 1079.5,2716.5 1068.9,2727"/>
<polygon points="1087.4,2736.2 1103.2,2727 1134.7,2728.3 1132.1,2734.9 1097.9,2740.2"/>
<polygon points="1029.5,2766.5 1055.8,2757.3 1082.1,2759.9 1129.5,2762.5 1132.1,2766.5"/>
<polygon points="850.5,2766.5 866.3,2755.9 882.1,2766.5"/>
<polygon points="1197.4,2734.9 1260.5,2730.9 1276.3,2734.9 1313.2,2753.3 1297.4,2763.8 1255.3,2745.4 1228.9,2742.8"/>
<polygon points="1150,2766.5 1171.1,2742.8 1197.4,2734.9 1176.3,2766.5"/>
<polygon points="1334.2,2729.6 1350,2742.8 1344.7,2745.4 1331.6,2732.3"/>
<polygon points="1360.5,2755.9 1381.6,2745.4 1413.2,2755.9 1450,2745.4 1460.5,2753.3 1439.5,2763.8 1397.4,2766.5 1373.7,2766.5"/>
<polygon points="1378.9,2724.4 1413.2,2721.7 1415.8,2725.7 1381.6,2728.3"/>
<polygon points="1428.9,2737.5 1444.7,2734.9 1442.1,2738.8"/>
<polygon points="1502.6,2763.8 1560.5,2765.2 1560.5,2767.8 1502.6,2767.8"/>
<polygon points="1691.6,2765.2 1717.9,2757.3 1770.5,2759.9 1770.5,2766.5"/>
<polygon points="1560,2755.9 1570.5,2753.3 1565.3,2763.8 1560,2766.5"/>
<polygon points="693.2,2765.2 708.9,2765.2 714.2,2769.1 693.2,2769.1"/>
</g>
<path d="M1187.1 1898.1h18M1196.1 1889.1v18M1186.5 1916.5h18M1195.5 1907.5v18M1185.9 1934.9h18M1194.9 1925.9v18M1185.4 1953.3h18M1194.4 1944.3v18M1184.8 1971.7h18M1193.8 1962.7v18M1184.3 1990.1h18M1193.3 1981.1v18M1183.7 2008.5h18M1192.7 1999.5v18M1183.2 2026.9h18M1192.2 2017.9v18M1182.6 2045.4h18M1191.6 2036.4v18M1182.1 2063.8h18M1191.1 2054.8v18M1181.5 2082.2h18M1190.5 2073.2v18M1181 2100.6h18M1190 2091.6v18M1180.4 2119h18M1189.4 2110v18M1179.8 2137.4h18M1188.8 2128.4v18M1178.3 2155.8h18M1187.3 2146.8v18M1176.9 2174.1h18M1185.9 2165.1v18M1175.5 2192.5h18M1184.5 2183.5v18M1174.1 2210.9h18M1183.1 2201.9v18M1172.4 2229.2h18M1181.4 2220.2v18M1170.5 2247.5h18M1179.5 2238.5v18M1168.7 2265.9h18M1177.7 2256.9v18M1166.9 2284.2h18M1175.9 2275.2v18M1165 2302.5h18M1174 2293.5v18M1163.2 2320.9h18M1172.2 2311.9v18" stroke="#ff0000" stroke-width="2.6" stroke-opacity="0.75" fill="none"/>
<path d="M1188.4 1940.2h18M1197.4 1931.2v18M1189.2 1954.6h18M1198.2 1945.6v18M1190.1 1969.1h18M1199.1 1960.1v18M1191 1983.5h18M1200 1974.5v18M1191.9 1997.9h18M1200.9 1988.9v18M1192.7 2012.4h18M1201.7 2003.4v18M1193.6 2026.8h18M1202.6 2017.8v18" stroke="#ff0000" stroke-width="2.6" stroke-opacity="0.75" fill="none"/>
<path d="M1275.2 1890.2h18M1284.2 1881.2v18M1276.6 1907.2h18M1285.6 1898.2v18M1278 1924.3h18M1287 1915.3v18M1279.3 1941.3h18M1288.3 1932.3v18M1280.7 1958.4h18M1289.7 1949.4v18M1281.9 1975.4h18M1290.9 1966.4v18M1282.5 1992.5h18M1291.5 1983.5v18M1283.1 2009.6h18M1292.1 2000.6v18M1283.6 2026.7h18M1292.6 2017.7v18M1284.2 2043.8h18M1293.2 2034.8v18M1284.9 2060.9h18M1293.9 2051.9v18M1285.8 2078h18M1294.8 2069v18M1286.6 2095.1h18M1295.6 2086.1v18M1287.5 2112.1h18M1296.5 2103.1v18M1288.3 2129.2h18M1297.3 2120.2v18M1288.6 2146.3h18M1297.6 2137.3v18M1288.9 2163.4h18M1297.9 2154.4v18M1289.2 2180.5h18M1298.2 2171.5v18M1289.4 2197.6h18M1298.4 2188.6v18M1289.7 2214.7h18M1298.7 2205.7v18M1290.1 2231.8h18M1299.1 2222.8v18M1290.6 2248.9h18M1299.6 2239.9v18M1291 2266h18M1300 2257v18M1291.3 2283.1h18M1300.3 2274.1v18M1291.6 2300.2h18M1300.6 2291.2v18M1291.8 2317.3h18M1300.8 2308.3v18M1292.1 2334.5h18M1301.1 2325.5v18" stroke="#ff0000" stroke-width="2.6" stroke-opacity="0.75" fill="none"/>
<path d="M1272.6 1908.6h18M1281.6 1899.6v18M1271.7 1920.4h18M1280.7 1911.4v18M1270.7 1932.2h18M1279.7 1923.2v18M1269.8 1944h18M1278.8 1935v18M1268.9 1955.8h18M1277.9 1946.8v18M1268 1967.6h18M1277 1958.6v18M1267 1979.4h18M1276 1970.4v18M1266.1 1991.2h18M1275.1 1982.2v18" stroke="#ff0000" stroke-width="2.6" stroke-opacity="0.75" fill="none"/>
<path d="M1302.8 2021.7h18M1311.8 2012.7v18M1302.7 2044.1h18M1311.7 2035.1v18M1302.5 2066.5h18M1311.5 2057.5v18M1302.3 2088.8h18M1311.3 2079.8v18M1302.1 2111.2h18M1311.1 2102.2v18M1301.9 2133.6h18M1310.9 2124.6v18M1301.7 2155.9h18M1310.7 2146.9v18M1301.5 2178.3h18M1310.5 2169.3v18M1300.7 2200.7h18M1309.7 2191.7v18" stroke="#ff0000" stroke-width="2.6" stroke-opacity="0.75" fill="none"/>
<path d="M1347.1 1823.1h18M1356.1 1814.1v18M1348.1 1838.8h18M1357.1 1829.8v18M1349.1 1854.6h18M1358.1 1845.6v18M1350.1 1870.3h18M1359.1 1861.3v18M1351.1 1886.1h18M1360.1 1877.1v18M1352 1901.8h18M1361 1892.8v18M1352.8 1917.6h18M1361.8 1908.6v18M1353.6 1933.4h18M1362.6 1924.4v18M1354.3 1949.2h18M1363.3 1940.2v18M1355.1 1964.9h18M1364.1 1955.9v18M1355.7 1980.7h18M1364.7 1971.7v18M1356.1 1996.5h18M1365.1 1987.5v18M1356.4 2012.3h18M1365.4 2003.3v18M1356.8 2028.1h18M1365.8 2019.1v18M1357.2 2043.8h18M1366.2 2034.8v18M1357.7 2059.6h18M1366.7 2050.6v18M1358.4 2075.4h18M1367.4 2066.4v18M1359.1 2091.2h18M1368.1 2082.2v18M1359.8 2106.9h18M1368.8 2097.9v18M1360.4 2122.7h18M1369.4 2113.7v18M1361.3 2138.5h18M1370.3 2129.5v18M1362.4 2154.2h18M1371.4 2145.2v18M1363.5 2170h18M1372.5 2161v18M1364.6 2185.7h18M1373.6 2176.7v18M1366.1 2201.5h18M1375.1 2192.5v18M1367.6 2217.2h18M1376.6 2208.2v18M1369.2 2232.9h18M1378.2 2223.9v18M1370.4 2248.6h18M1379.4 2239.6v18M1371.2 2264.4h18M1380.2 2255.4v18M1371.9 2280.2h18M1380.9 2271.2v18M1372.7 2295.9h18M1381.7 2286.9v18M1373.5 2311.7h18M1382.5 2302.7v18" stroke="#ff0000" stroke-width="2.6" stroke-opacity="0.75" fill="none"/>
<path d="M1343.6 1877h18M1352.6 1868v18M1342.7 1890.1h18M1351.7 1881.1v18M1341.8 1903.3h18M1350.8 1894.3v18M1340.9 1916.4h18M1349.9 1907.4v18M1340 1929.5h18M1349 1920.5v18M1339.1 1942.6h18M1348.1 1933.6v18M1338.2 1955.8h18M1347.2 1946.8v18M1337.3 1968.9h18M1346.3 1959.9v18" stroke="#ff0000" stroke-width="2.6" stroke-opacity="0.75" fill="none"/>
<path d="M1397.6 1892.8h18M1406.6 1883.8v18M1396.5 1908.5h18M1405.5 1899.5v18M1395.5 1924.3h18M1404.5 1915.3v18M1394.4 1940.1h18M1403.4 1931.1v18M1393.4 1955.8h18M1402.4 1946.8v18M1392.3 1971.6h18M1401.3 1962.6v18M1391.8 1987.3h18M1400.8 1978.3v18M1391.3 2003.1h18M1400.3 1994.1v18M1390.7 2018.9h18M1399.7 2009.9v18M1390.2 2034.7h18M1399.2 2025.7v18M1389.7 2050.5h18M1398.7 2041.5v18M1389.2 2066.2h18M1398.2 2057.2v18M1388.6 2082h18M1397.6 2073v18M1388.1 2097.8h18M1397.1 2088.8v18M1387.6 2113.6h18M1396.6 2104.6v18M1387.1 2129.4h18M1396.1 2120.4v18M1386.3 2145.1h18M1395.3 2136.1v18M1385.6 2160.9h18M1394.6 2151.9v18M1384.9 2176.7h18M1393.9 2167.7v18M1383.9 2192.4h18M1392.9 2183.4v18M1382.4 2208.2h18M1391.4 2199.2v18M1380.8 2223.9h18M1389.8 2214.9v18M1379.2 2239.6h18M1388.2 2230.6v18M1378.4 2255.3h18M1387.4 2246.3v18M1377.6 2271.1h18M1386.6 2262.1v18M1376.8 2286.9h18M1385.8 2277.9v18M1376 2302.7h18M1385 2293.7v18M1375.2 2318.4h18M1384.2 2309.4v18" stroke="#ff0000" stroke-width="2.6" stroke-opacity="0.75" fill="none"/>
<path d="M1435.7 2027h18M1444.7 2018v18M1435.7 2042.8h18M1444.7 2033.8v18M1435.7 2058.6h18M1444.7 2049.6v18M1435.7 2074.4h18M1444.7 2065.4v18" stroke="#ff0000" stroke-width="2.6" stroke-opacity="0.8" fill="none"/>
<path d="M1423.9 2058.6h18M1432.9 2049.6v18M1423.5 2071.7h18M1432.5 2062.7v18M1423.1 2084.9h18M1432.1 2075.9v18M1422.7 2098h18M1431.7 2089v18M1422.3 2111.2h18M1431.3 2102.2v18M1421.9 2124.3h18M1430.9 2115.3v18M1421.5 2137.5h18M1430.5 2128.5v18M1421.1 2150.6h18M1430.1 2141.6v18M1420.7 2163.8h18M1429.7 2154.8v18M1420.3 2176.9h18M1429.3 2167.9v18M1419.8 2190.1h18M1428.8 2181.1v18M1419.2 2203.2h18M1428.2 2194.2v18M1418.5 2216.4h18M1427.5 2207.4v18M1417.8 2229.5h18M1426.8 2220.5v18" stroke="#ff0000" stroke-width="2.6" stroke-opacity="0.6" fill="none"/>
<path d="M1408.1 1839.4h18M1417.1 1830.4v18" stroke="#ff0000" stroke-width="2.6" stroke-opacity="0.75" fill="none"/>
<path d="M1141.3 2125.7 C1142.2 2134.2 1145 2159.7 1146.6 2177 C1148.1 2194.3 1149 2211.2 1150.5 2229.6 C1152.1 2248.1 1153.6 2265.6 1155.8 2287.5 C1158 2309.5 1161.1 2340.2 1163.7 2361.2 C1166.3 2382.3 1170.3 2405.1 1171.6 2413.8" stroke="#ff0000" stroke-width="17" stroke-opacity="0.5" fill="none"/>
<path d="M1141.3 2125.7 C1142.2 2134.2 1145 2159.7 1146.6 2177 C1148.1 2194.3 1149 2211.2 1150.5 2229.6 C1152.1 2248.1 1153.6 2265.6 1155.8 2287.5 C1158 2309.5 1161.1 2340.2 1163.7 2361.2 C1166.3 2382.3 1170.3 2405.1 1171.6 2413.8" stroke="#ff0000" stroke-width="4" stroke-opacity="0.5" fill="none"/>
<path d="M1357.9 2327 C1357 2334.5 1354.8 2355.5 1352.6 2371.7 C1350.4 2388 1346.1 2415.6 1344.7 2424.4" stroke="#ff0000" stroke-width="14" stroke-opacity="0.5" fill="none"/>
<path d="M1357.9 2327 C1357 2334.5 1354.8 2355.5 1352.6 2371.7 C1350.4 2388 1346.1 2415.6 1344.7 2424.4" stroke="#ff0000" stroke-width="4" stroke-opacity="0.5" fill="none"/>
<path d="M1432.9 2345.4 L1428.9 2398.1" stroke="#ff0000" stroke-width="12" stroke-opacity="0.4" fill="none"/>
<path d="M1432.9 2345.4 L1428.9 2398.1" stroke="#ff0000" stroke-width="4" stroke-opacity="0.4" fill="none"/>
<path d="M1510.5 2384.9 C1511.8 2395.9 1515.8 2430.9 1518.4 2450.7 C1521.1 2470.4 1525 2494.5 1526.3 2503.3" stroke="#ff0000" stroke-width="12" stroke-opacity="0.45" fill="none"/>
<path d="M1510.5 2384.9 C1511.8 2395.9 1515.8 2430.9 1518.4 2450.7 C1521.1 2470.4 1525 2494.5 1526.3 2503.3" stroke="#ff0000" stroke-width="4" stroke-opacity="0.45" fill="none"/>
<path d="M1176.3 2279.6 C1175.4 2288.4 1172.4 2319.1 1171.1 2332.3 C1169.7 2345.4 1168.9 2354.2 1168.4 2358.6" stroke="#ff0000" stroke-width="14" stroke-opacity="0.5" fill="none"/>
<path d="M1176.3 2279.6 C1175.4 2288.4 1172.4 2319.1 1171.1 2332.3 C1169.7 2345.4 1168.9 2354.2 1168.4 2358.6" stroke="#ff0000" stroke-width="4" stroke-opacity="0.5" fill="none"/>
<path d="M1586.3 2479.6 C1585.7 2486.2 1583.5 2505.9 1582.4 2519.1 C1581.3 2532.3 1580.2 2552 1579.7 2558.6" stroke="#ff0000" stroke-width="16" stroke-opacity="0.55" fill="none"/>
<path d="M1586.3 2479.6 C1585.7 2486.2 1583.5 2505.9 1582.4 2519.1 C1581.3 2532.3 1580.2 2552 1579.7 2558.6" stroke="#ff0000" stroke-width="4" stroke-opacity="0.55" fill="none"/>
<path d="M1113.7 2361.2 L1112.4 2419.1" stroke="#ff0000" stroke-width="10" stroke-opacity="0.5" fill="none"/>
<path d="M1113.7 2361.2 L1112.4 2419.1" stroke="#ff0000" stroke-width="4" stroke-opacity="0.5" fill="none"/>
<path d="M1381.6 2253.3 L1382.9 2319.1" stroke="#ff0000" stroke-width="16" stroke-opacity="0.5" fill="none"/>
<path d="M1381.6 2253.3 L1382.9 2319.1" stroke="#ff0000" stroke-width="4" stroke-opacity="0.5" fill="none"/>
<rect x="1189.5" y="1932.3" width="17.1" height="28.9" fill="#ff0000" fill-opacity="0.85"/>
<rect x="1276.3" y="1884.9" width="17.1" height="23.7" fill="#ff0000" fill-opacity="0.85"/>
<rect x="1346.1" y="1819.1" width="19.7" height="21.1" fill="#ff0000" fill-opacity="0.85"/>
<rect x="1398.7" y="1890.2" width="25" height="44.7" fill="#ff0000" fill-opacity="0.85"/>
<rect x="1434.2" y="2040.2" width="21.1" height="13.2" fill="#ff0000" fill-opacity="0.85"/>
<polygon fill="#00ff00" points="335.5,2700 336.6,2595.4 343.2,2591.5 352.4,2595.4 369.5,2586.2 380,2588.8 389.2,2586.2 397.1,2588.8 390.5,2598.1 405,2612.5 461.6,2586.2 472.1,2588.8 480,2586.2 494.5,2592.8 511.6,2586.2 519.5,2588.8 530,2586.2 533.9,2591.5 526.1,2598.1 531.3,2605.9 514.2,2612.5 523.4,2623.1 547.1,2600.7 540.5,2587.5 558.9,2588.8 574.7,2586.2 582.6,2588.1 593.2,2586.2 598.4,2595.4 616.8,2587.5 636.6,2586.2 639.2,2594.1 651.1,2598.1 662.9,2586.2 672.1,2588.8 682.6,2586.2 695.8,2588.8 707.6,2586.2 716.8,2588.8 727.4,2586.2 730,2595.4 735.3,2598.1 740,2592.8 753.2,2588.8 771.6,2586.2 790,2586.2 803.2,2595.4 818.9,2608.6 842.6,2612.5 843.9,2598.1 850.5,2590.2 855.8,2582.3 851.8,2571.7 851.8,2557.3 876.8,2557.3 883.4,2571.7 897.9,2558.6 924.2,2571.7 950.5,2558.6 966.3,2566.5 986.1,2550.7 992.6,2527 1003.2,2482.3 1004.5,2462.5 992.6,2466.5 984.7,2492.8 1000.5,2571.7 1013.7,2540.2 1028.2,2496.7 1045.3,2496.7 1042.6,2519.1 1037.4,2482.3 1050.5,2411.2 1065,2413.8 1068.9,2453.3 1082.1,2440.2 1095.3,2348.1 1121.6,2313.8 1118.9,2327 1134.7,2324.4 1142.6,2332.3 1153.2,2387.5 1150,2345.4 1171.1,2332.3 1194.7,2292.8 1202.6,2269.1 1211.8,2266.5 1210.5,2284.9 1202.6,2319.1 1194.7,2371.7 1196.1,2387.5 1213.2,2390.2 1215.8,2411.2 1228.9,2413.8 1236.8,2408.6 1250,2371.7 1260.5,2332.3 1271.1,2279.6 1265.8,2255.9 1278.9,2253.3 1286.8,2266.5 1307.9,2271.7 1322.4,2265.2 1321.1,2284.9 1315.8,2319.1 1321.1,2398.1 1334.2,2411.2 1344.7,2384.9 1355.3,2371.7 1373.7,2403.3 1386.8,2424.4 1400,2332.3 1410.5,2269.1 1421.1,2274.4 1415.8,2305.9 1428.9,2319.1 1439.5,2284.9 1456.6,2282.3 1456.6,2300.7 1444.7,2316.5 1450,2329.6 1468.4,2327 1478.9,2358.6 1492.1,2398.1 1507.9,2398.1 1518.4,2403.3 1531.6,2450.7 1544.7,2477 1560.5,2503.3 1560,2519.1 1575.8,2474.4 1581.1,2429.6 1604.7,2429.6 1599.5,2448.1 1617.9,2505.9 1638.9,2487.5 1657.4,2479.6 1673.2,2479.6 1686.3,2524.4 1699.5,2566.5 1728.4,2574.4 1720.5,2587.5 1744.2,2586.2 1765.3,2587.5 1773.2,2595.4 1791.6,2587.5 1812.6,2587.5 1833.7,2598.1 1844.2,2586.2 1857.4,2586.2 1875.8,2598.1 1886.3,2603.3 1888.9,2590.2 1904.7,2590.2 1925.8,2605.9 1938.9,2590.2 1949.5,2587.5 1980,2590.2 1989.2,2587.2 2008.1,2587.8 2011.5,2595.9 2011.5,2706.8 2012.5,2748.8 1954.7,2748.7 1849.5,2750.5 1770.5,2743.9 1691.6,2730.8 1638.9,2717.6 1560,2708.4 1505.3,2696.6 1465.8,2691.3 1439.5,2693.9 1386.8,2701.8 1334.2,2707.1 1281.6,2712.4 1228.9,2720.3 1176.3,2717.6 1150,2712.9 1108.4,2707.1 1055.8,2701.8 1003.2,2701.8 950.5,2704.5 897.9,2709.7 845.3,2720.3 792.6,2736.1 750.5,2745.3 740,2747.1 724.7,2750.5 693.2,2751.3 645.8,2751.8 619.5,2749.2 566.8,2743.9 514.2,2738.7 493.2,2737.4 461.6,2738.7 408.9,2742.6 356.3,2745.3 341.8,2743.9 335.3,2746.6"/>
<g fill="#fff">
<polygon points="423.4,2633.6 461.6,2615.2 468.2,2621.7 440.5,2649.4"/>
<polygon points="380,2638.8 390.5,2638.8 401.1,2650.7 395.8,2648.1"/>
<polygon points="474.7,2653.3 490.5,2638.8 495.8,2644.1"/>
<polygon points="603.7,2624.4 618.2,2621.7 639.2,2641.5 628.7,2649.4 602.4,2628.3"/>
<polygon points="562.9,2667.8 581.3,2648.1 603.7,2666.5 586.6,2674.4"/>
<polygon points="510.3,2692.8 533.9,2678.3 545.8,2688.8 514.2,2696.7"/>
<polygon points="686.6,2634.9 694.5,2628.3 699.7,2633.6 691.8,2640.2"/>
<polygon points="651.1,2666.5 662.9,2659.9 664.2,2662.5 653.7,2668.6"/>
<polygon points="343.2,2663.8 353.7,2674.4 345.8,2677"/>
<polygon points="722.1,2598.1 730,2603.3 727.4,2611.2 719.5,2608.6"/>
<polygon points="792.6,2624.4 800.5,2621.7 828.2,2648.1 824.2,2650.7"/>
<polygon points="783.4,2661.2 799.2,2671.7 796.6,2675.7 782.1,2665.2"/>
<polygon points="1132.1,2371.7 1151.8,2409.9 1117.6,2479.6 1104.5,2450.7"/>
<polygon points="1223.7,2436.2 1227.6,2437.5 1214.5,2463.8 1210.5,2462.5"/>
<polygon points="1251.3,2434.9 1255.3,2436.2 1238.2,2490.2 1234.2,2488.8"/>
<polygon points="1444.7,2429.6 1455.3,2421.7 1502.6,2500.7 1492.1,2503.3"/>
<polygon points="1421.1,2274.4 1439.5,2284.9 1428.9,2319.1 1415.8,2305.9"/>
<polygon points="1444.7,2316.5 1450,2329.6 1452.6,2345.4 1465.8,2398.1 1452.6,2400.7 1450,2403.3 1425,2403.3 1428.9,2384.9 1434.2,2345.4"/>
<polygon points="1489.5,2387.5 1507.9,2398.1 1515.8,2437.5 1502.6,2429.6"/>
<polygon points="1423.7,2463.8 1428.9,2461.2 1442.1,2500.7 1434.2,2503.3"/>
<polygon points="1497.4,2519.1 1510.5,2527 1515.8,2537.5 1505.3,2542.8"/>
<polygon points="1635,2562.5 1657.4,2573.1 1683.7,2653.3 1673.2,2653.3 1654.7,2616.5"/>
</g>
<polygon fill="#0000ff" points="335.8,2704.6 348.4,2704.6 356.3,2696.7 364.2,2682.3 372.1,2666.5 376.1,2669.1 381.3,2665.9 386.6,2669.1 390.5,2666.5 389.2,2683.6 378.7,2708.6 408.9,2713.8 456.3,2716.5 458.9,2703.3 456.3,2692.8 461.6,2684.9 460.3,2674.4 465.5,2677 470.8,2673.8 476.1,2677 480,2674.4 483.9,2684.9 490.5,2692.8 514.2,2696.7 545.8,2688.8 558.9,2690.2 593.2,2694.1 605,2688.8 601.1,2682.3 606.3,2683.6 611.6,2680.9 619.5,2680.9 640.5,2698.1 660.3,2713.8 674.7,2703.3 690.5,2682.3 701.1,2658.6 708.9,2624.4 714.2,2626.5 718.2,2623.1 723.4,2626.5 727.4,2623.1 727.4,2640.2 722.1,2663.8 708.9,2696.7 730,2671.7 743.2,2650.7 750,2637.5 740,2700.7 771.6,2698.1 792.6,2678.3 829.5,2667 845.3,2646.7 861.1,2623.1 876.8,2596.7 887.4,2571.7 911.1,2566.5 942.6,2553.3 963.7,2566.5 984.7,2624.4 1000.5,2633.6 1029.5,2624.4 1063.7,2620.4 1079.5,2619.6 1105.8,2632.8 1121.6,2598.1 1134.7,2611.2 1150.5,2645.4 1150,2587.5 1171.1,2577 1192.1,2566.5 1218.4,2587.5 1244.7,2577 1268.4,2566.5 1297.4,2550.7 1318.4,2519.1 1334.2,2505.9 1350,2527 1376.3,2540.2 1397.4,2540.2 1415.8,2577 1432.9,2563.8 1452.6,2527 1465.8,2513.8 1481.6,2550.7 1500,2598.1 1528.9,2571.7 1544.7,2566.5 1570,2587.5 1560,2598.1 1575.8,2598.1 1586.3,2619.1 1623.2,2671.7 1628.4,2684.9 1641.6,2682.3 1652.1,2671.7 1673.2,2675.7 1696.8,2677 1702.1,2692.8 1717.9,2700.7 1728.4,2677 1754.7,2696.7 1765.3,2695.4 1788.9,2679.6 1810,2698.1 1810,2711.2 1836.3,2715.2 1865.3,2715.2 1891.6,2716.5 1900,2713.5 1913.5,2718.9 1927,2718.9 1935.1,2712.2 1937.8,2704.1 1935.1,2694.6 1954.1,2691.9 1963.5,2687.8 1994.6,2695.9 2012.2,2704.1 2012.5,2760.8 1954.7,2760.7 1849.5,2762.5 1770.5,2755.9 1691.6,2742.8 1638.9,2729.6 1560,2720.4 1505.3,2708.6 1465.8,2703.3 1439.5,2705.9 1386.8,2713.8 1334.2,2719.1 1281.6,2724.4 1228.9,2732.3 1176.3,2729.6 1150,2724.9 1108.4,2719.1 1055.8,2713.8 1003.2,2713.8 950.5,2716.5 897.9,2721.7 845.3,2732.3 792.6,2748.1 750.5,2757.3 740,2759.1 724.7,2762.5 693.2,2763.3 645.8,2763.8 619.5,2761.2 566.8,2755.9 514.2,2750.7 493.2,2749.4 461.6,2750.7 408.9,2754.6 356.3,2757.3 341.8,2755.9 335.3,2758.6"/>
<polygon fill="#0000ff" points="740,2648.1 759.7,2613.8 763.7,2617 767.6,2613.8 774.2,2615.9 775.5,2608.6 779.5,2611.7 784.2,2608.1 788.7,2611.2 792.6,2608.6 788.7,2637.5 782.1,2663.8 771.6,2696.7 740,2703.3"/>
<polygon fill="#0000ff" points="851.8,2484.9 857.1,2488.1 861.1,2484.4 866.3,2487.5 870.3,2484.9 875.5,2495.4 879.5,2483.6 884.7,2486.2 890,2482.3 895.3,2485.4 900.5,2482.3 903.2,2474.4 908.4,2477.5 913.7,2471.7 929.5,2498.1 950.5,2545.4 942.6,2558.6 887.4,2571.7"/>
<g fill="#0000ff">
<polygon points="919.7,2439.3 921,2434 923.6,2439.7 928.5,2435.3 930.8,2441.5 935.7,2437 938,2443.2 942.9,2439.3 941.6,2444.6"/>
<polygon points="850.7,2490.7 848.8,2485.5 854.1,2488.9 855.6,2482.4 861.1,2486.2 862.6,2479.7 868,2483.6 869.8,2477.5 871.7,2482.7"/>
<polygon points="879.8,2488.4 877.7,2483.3 883.2,2486.5 884.4,2480 890,2483.6 891.3,2477.1 896.8,2480.7 898.4,2474.6 900.6,2479.7"/>
<polygon points="898.1,2480.2 896.1,2475.1 901.5,2478.3 903,2471.9 908.4,2475.7 909.9,2469.2 915.4,2473 917.1,2467 919.1,2472.1"/>
<polygon points="937.6,2450.1 935.6,2445 941,2448.2 942.4,2441.7 947.9,2445.4 949.3,2438.9 954.8,2442.7 956.5,2436.6 958.5,2441.7"/>
<polygon points="982.8,2406 983.6,2400.5 986.6,2406.1 991.2,2401.2 993.9,2407.3 998.5,2402.4 1001.3,2408.4 1005.8,2404.1 1005,2409.5"/>
<polygon points="1047.4,2345.1 1046.5,2339.7 1051.1,2344 1053.9,2338 1058.4,2342.8 1061.2,2336.8 1065.7,2341.6 1068.7,2336 1069.6,2341.4"/>
<polygon points="1101.1,2279.1 1101.6,2273.6 1105,2279 1109.2,2273.8 1112.4,2279.6 1116.6,2274.5 1119.8,2280.3 1124,2275.7 1123.5,2281.1"/>
<polygon points="1127.5,2257.3 1127.1,2251.9 1131.3,2256.5 1134.5,2250.8 1138.7,2255.9 1141.9,2250.2 1146.1,2255.4 1149.5,2250.1 1149.9,2255.5"/>
<polygon points="1120.9,2566.6 1120.5,2561.1 1124.7,2565.8 1128,2560 1132.1,2565.2 1135.4,2559.4 1139.5,2564.6 1142.9,2559.3 1143.4,2564.8"/>
<polygon points="1191.4,2191.1 1191.8,2185.6 1195.2,2190.9 1199.4,2185.7 1202.6,2191.5 1206.8,2186.3 1210,2192.1 1214.2,2187.4 1213.8,2192.9"/>
<polygon points="1265.2,2143.2 1264.6,2137.8 1268.9,2142.3 1272,2136.4 1276.3,2141.5 1279.4,2135.6 1283.7,2140.6 1286.9,2135.2 1287.5,2140.7"/>
<polygon points="1287.4,2115 1287.7,2109.5 1291.3,2114.7 1295.3,2109.5 1298.7,2115.2 1302.7,2109.9 1306.1,2115.6 1310.2,2110.8 1309.9,2116.3"/>
<polygon points="1303.2,2159.8 1303.5,2154.4 1307.1,2159.5 1311,2154.2 1314.5,2159.9 1318.4,2154.6 1321.9,2160.3 1326,2155.4 1325.7,2160.9"/>
<polygon points="1334.9,2103.5 1334.4,2098 1338.7,2102.6 1341.9,2096.8 1346.1,2102 1349.3,2096.2 1353.5,2101.4 1356.8,2096.1 1357.3,2101.5"/>
<polygon points="1354.5,2069.2 1354.7,2063.7 1358.4,2068.9 1362.3,2063.5 1365.8,2069.1 1369.7,2063.7 1373.2,2069.4 1377.2,2064.5 1377,2070"/>
<polygon points="1407.2,2072.9 1407.5,2067.5 1411,2072.7 1415,2067.4 1418.4,2073.1 1422.4,2067.8 1425.8,2073.5 1429.9,2068.7 1429.6,2074.2"/>
<polygon points="1436.1,2088.7 1436.4,2083.2 1440,2088.4 1444,2083.1 1447.4,2088.8 1451.4,2083.6 1454.8,2089.3 1458.9,2084.5 1458.6,2090"/>
<polygon points="1449.6,2411.1 1448.5,2405.7 1453.2,2409.9 1455.9,2403.9 1460.5,2408.6 1463.2,2402.5 1467.8,2407.2 1470.7,2401.6 1471.7,2407"/>
<polygon points="1504.6,2302.2 1504.1,2296.7 1508.4,2301.3 1511.6,2295.5 1515.8,2300.7 1519,2294.9 1523.2,2300 1526.6,2294.7 1527,2300.2"/>
<polygon points="1431.9,2539.3 1434.5,2534.4 1435.5,2540.6 1441.4,2537.5 1442.1,2544.1 1448,2541 1448.7,2547.6 1454.4,2544.9 1451.8,2549.8"/>
<polygon points="1192.8,2481.9 1193.9,2476.5 1196.7,2482.1 1201.4,2477.5 1203.9,2483.6 1208.7,2478.9 1211.2,2485 1216,2480.9 1214.9,2486.3"/>
<polygon points="1584.3,2230.9 1584.5,2225.4 1588.1,2230.6 1592.1,2225.3 1595.5,2230.9 1599.5,2225.6 1602.9,2231.3 1607,2226.5 1606.7,2232"/>
<polygon points="1654,2366 1654.5,2360.6 1657.9,2365.9 1662,2360.7 1665.3,2366.5 1669.4,2361.3 1672.7,2367.1 1676.9,2362.4 1676.4,2367.9"/>
<polygon points="1654.5,2544.8 1653.1,2539.5 1658.1,2543.3 1660.3,2537.1 1665.3,2541.5 1667.5,2535.2 1672.4,2539.6 1674.9,2533.8 1676.3,2539.1"/>
<polygon points="1574.9,2570 1572.7,2565 1578.2,2568.1 1579.4,2561.6 1585,2565.2 1586.2,2558.6 1591.8,2562.2 1593.4,2556.1 1595.5,2561.2"/>
<polygon points="1730.4,2469.2 1730,2463.7 1734.2,2468.4 1737.5,2462.6 1741.6,2467.8 1744.9,2462 1749,2467.2 1752.4,2461.9 1752.8,2467.4"/>
<polygon points="1825.1,2505.3 1825.6,2499.9 1828.9,2505.2 1833.2,2500.1 1836.3,2505.9 1840.6,2500.8 1843.7,2506.7 1848,2502.1 1847.5,2507.6"/>
<polygon points="1837.1,2612 1836.3,2606.5 1840.8,2610.9 1843.7,2605 1848.2,2609.9 1851.1,2603.9 1855.5,2608.8 1858.6,2603.4 1859.4,2608.8"/>
<polygon points="1941,2551.1 1940.4,2545.6 1944.7,2550.2 1947.8,2544.3 1952.1,2549.4 1955.2,2543.5 1959.5,2548.5 1962.7,2543.2 1963.3,2548.6"/>
<polygon points="1719.3,2647.9 1719,2642.4 1723.1,2647.2 1726.5,2641.5 1730.5,2646.7 1733.9,2641 1737.9,2646.3 1741.5,2641.1 1741.8,2646.6"/>
</g>
<g stroke="#0000ff" stroke-width="22.5" fill="none" stroke-linejoin="round">
<path d="M930.8 2441.5 C929.3 2447.8 925.1 2464.5 921.6 2479.6 C918.1 2494.8 913.7 2516.9 909.7 2532.3 C905.8 2547.6 902.1 2559.9 897.9 2571.7 C893.7 2583.6 889.6 2593.7 884.7 2603.3 C879.9 2613 874.2 2621.3 868.9 2629.6 C863.7 2638 860.2 2646.3 853.2 2653.3 C846.1 2660.3 835.6 2666 826.8 2671.7 C818.1 2677.4 808.4 2681.8 800.5 2687.5 C792.6 2693.2 783 2702.9 779.5 2705.9"/>
<path d="M861.1 2486.2 C862.8 2490.8 867.2 2503.1 871.6 2513.8 C876 2524.6 881.2 2538 887.4 2550.7 C893.5 2563.4 901 2577.9 908.4 2590.2 C915.9 2602.4 923.8 2613 932.1 2624.4 C940.4 2635.8 948.8 2647.6 958.4 2658.6 C968.1 2669.5 984.7 2684.9 990 2690.2"/>
<path d="M890 2483.6 C891.8 2487.7 896.1 2498.3 900.5 2508.6 C904.9 2518.9 910.6 2533.1 916.3 2545.4 C922 2557.7 928.2 2570 934.7 2582.3 C941.3 2594.5 948.8 2607.7 955.8 2619.1 C962.8 2630.5 968.9 2641 976.8 2650.7 C984.7 2660.3 998.8 2672.6 1003.2 2677"/>
<path d="M908.4 2475.7 C909.5 2478.5 912.4 2485.6 915 2492.8 C917.6 2500 922.7 2514.7 924.2 2519.1"/>
<path d="M947.9 2445.4 C949.6 2449.8 954.9 2461.6 958.4 2471.7 C961.9 2481.8 965 2493.7 968.9 2505.9 C972.9 2518.2 977.3 2532.3 982.1 2545.4 C986.9 2558.6 992.2 2572.6 997.9 2584.9 C1003.6 2597.2 1011.1 2609.9 1016.3 2619.1 C1021.6 2628.3 1022.9 2632.7 1029.5 2640.2 C1036.1 2647.6 1051.4 2659.9 1055.8 2663.8"/>
<path d="M993.9 2407.3 C993.1 2412.7 990.7 2429.4 988.7 2440.2 C986.7 2450.9 984.5 2460.8 982.1 2471.7 C979.7 2482.7 977.3 2493.7 974.2 2505.9 C971.1 2518.2 967.6 2533.1 963.7 2545.4 C959.7 2557.7 955.4 2568.2 950.5 2579.6 C945.7 2591 940.9 2602.4 934.7 2613.8 C928.6 2625.2 921.6 2637.5 913.7 2648.1 C905.8 2658.6 891.8 2672.2 887.4 2677"/>
<path d="M1058.4 2342.8 C1059.3 2348.1 1061.7 2362.5 1063.7 2374.4 C1065.7 2386.2 1067.9 2400.7 1070.3 2413.8 C1072.7 2427 1075.3 2440.2 1078.2 2453.3 C1081 2466.5 1084.1 2479.6 1087.4 2492.8 C1090.7 2505.9 1093.9 2519.1 1097.9 2532.3 C1101.8 2545.4 1106.2 2559 1111.1 2571.7 C1115.9 2584.5 1121.1 2597.2 1126.8 2608.6 C1132.5 2620 1138.7 2630.5 1145.3 2640.2 C1151.8 2649.8 1162.8 2662.1 1166.3 2666.5"/>
<path d="M1112.4 2279.6 C1111.9 2284.5 1110.8 2297.2 1109.7 2308.6 C1108.6 2320 1107.3 2334.9 1105.8 2348.1 C1104.3 2361.2 1102.5 2374.4 1100.5 2387.5 C1098.6 2400.7 1096.4 2413.8 1093.9 2427 C1091.5 2440.2 1088.9 2453.3 1086.1 2466.5 C1083.2 2479.6 1080.1 2493.7 1076.8 2505.9 C1073.6 2518.2 1070.3 2528.8 1066.3 2540.2 C1062.4 2551.6 1057.5 2563.8 1053.2 2574.4 C1048.8 2584.9 1044.4 2594.5 1040 2603.3 C1035.6 2612.1 1032.1 2619.1 1026.8 2627 C1021.6 2634.9 1011.5 2646.7 1008.4 2650.7"/>
<path d="M1138.7 2255.9 C1139.2 2262.5 1140.7 2282.3 1141.8 2295.4 C1142.9 2308.6 1143.9 2321.7 1145.3 2334.9 C1146.6 2348.1 1148.1 2361.2 1149.7 2374.4 C1151.4 2387.5 1153.2 2400.7 1155.3 2413.8 C1157.3 2427 1159.4 2440.2 1161.8 2453.3 C1164.3 2466.5 1166.9 2479.6 1170 2492.8 C1173.1 2505.9 1176.4 2519.1 1180.3 2532.3 C1184.2 2545.4 1188.4 2558.6 1193.4 2571.7 C1198.5 2584.9 1204.6 2598.9 1210.5 2611.2 C1216.4 2623.5 1225.9 2639.7 1228.9 2645.4"/>
<path d="M1132.1 2565.2 C1132.5 2570.6 1133.4 2586 1134.7 2598.1 C1136.1 2610.1 1139.1 2630.9 1140 2637.5"/>
<path d="M1202.6 2191.5 C1202 2199.6 1200.4 2223.3 1198.7 2240.2 C1196.9 2257 1194.5 2275.2 1192.1 2292.8 C1189.7 2310.3 1186.8 2327.9 1184.2 2345.4 C1181.6 2363 1179.4 2380.5 1176.3 2398.1 C1173.2 2415.6 1169.3 2433.1 1165.8 2450.7 C1162.3 2468.2 1159.2 2485.8 1155.3 2503.3 C1151.3 2520.9 1144.3 2547.2 1142.1 2555.9"/>
<path d="M1276.3 2141.5 C1277.2 2149.1 1279.8 2171.1 1281.6 2187.5 C1283.3 2204 1284.9 2222.6 1286.8 2240.2 C1288.8 2257.7 1291.2 2275.2 1293.4 2292.8 C1295.6 2310.3 1297.6 2327.9 1300 2345.4 C1302.4 2363 1304.8 2380.5 1307.9 2398.1 C1311 2415.6 1314.5 2433.1 1318.4 2450.7 C1322.4 2468.2 1327.2 2485.8 1331.6 2503.3 C1336 2520.9 1339.9 2538.4 1344.7 2555.9 C1349.6 2573.5 1354.8 2593.7 1360.5 2608.6 C1366.2 2623.5 1372.4 2634.9 1378.9 2645.4 C1385.5 2655.9 1396.5 2667.4 1400 2671.7"/>
<path d="M1298.7 2115.2 C1298.2 2122.8 1297.1 2144.8 1296.1 2161.2 C1295 2177.7 1293.4 2196.3 1292.1 2213.8 C1290.8 2231.4 1289.7 2248.9 1288.2 2266.5 C1286.6 2284 1284.9 2301.6 1282.9 2319.1 C1280.9 2336.6 1278.7 2354.2 1276.3 2371.7 C1273.9 2389.3 1271.5 2406.8 1268.4 2424.4 C1265.4 2441.9 1261.4 2459.5 1257.9 2477 C1254.4 2494.5 1251.3 2513 1247.4 2529.6 C1243.4 2546.3 1239 2561.6 1234.2 2577 C1229.4 2592.4 1224.1 2609.5 1218.4 2621.7 C1212.7 2634 1207 2642.4 1200 2650.7 C1193 2659 1180.3 2668.2 1176.3 2671.7"/>
<path d="M1314.5 2159.9 C1314 2168.9 1312.9 2196.1 1311.8 2213.8 C1310.7 2231.6 1309.4 2248.9 1307.9 2266.5 C1306.4 2284 1304.6 2301.6 1302.6 2319.1 C1300.7 2336.6 1298.7 2354.2 1296.1 2371.7 C1293.4 2389.3 1290.1 2406.8 1286.8 2424.4 C1283.6 2441.9 1280.3 2459.5 1276.3 2477 C1272.4 2494.5 1267.5 2513 1263.2 2529.6 C1258.8 2546.3 1254.8 2562.1 1250 2577 C1245.2 2591.9 1239.9 2606.8 1234.2 2619.1 C1228.5 2631.4 1218.9 2645.4 1215.8 2650.7"/>
<path d="M1346.1 2102 C1346.7 2109.7 1348.5 2131.6 1350 2148.1 C1351.5 2164.5 1353.5 2183.1 1355.3 2200.7 C1357 2218.2 1358.8 2235.8 1360.5 2253.3 C1362.3 2270.9 1363.6 2288.4 1365.8 2305.9 C1368 2323.5 1371.1 2341 1373.7 2358.6 C1376.3 2376.1 1378.5 2393.7 1381.6 2411.2 C1384.6 2428.8 1388.6 2446.3 1392.1 2463.8 C1395.6 2481.4 1398.7 2498.9 1402.6 2516.5 C1406.6 2534 1410.5 2551.6 1415.8 2569.1 C1421.1 2586.6 1428.1 2607.3 1434.2 2621.7 C1440.4 2636.2 1445.2 2646.7 1452.6 2655.9 C1460.1 2665.2 1474.6 2673.5 1478.9 2677"/>
<path d="M1365.8 2069.1 C1365.6 2075.7 1365.4 2093.2 1364.5 2108.6 C1363.6 2123.9 1362.1 2143.7 1360.5 2161.2 C1359 2178.8 1357 2196.3 1355.3 2213.8 C1353.5 2231.4 1352 2248.9 1350 2266.5 C1348 2284 1345.8 2301.6 1343.4 2319.1 C1341 2336.6 1338.4 2354.2 1335.5 2371.7 C1332.7 2389.3 1329.6 2406.8 1326.3 2424.4 C1323 2441.9 1319.7 2459.5 1315.8 2477 C1311.8 2494.5 1306.6 2513 1302.6 2529.6 C1298.7 2546.3 1296.1 2563 1292.1 2577 C1288.2 2591 1284.2 2602.4 1278.9 2613.8 C1273.7 2625.2 1267.1 2636.6 1260.5 2645.4 C1253.9 2654.2 1243 2663 1239.5 2666.5"/>
<path d="M1418.4 2073.1 C1418 2081.2 1416.9 2104.9 1415.8 2121.7 C1414.7 2138.6 1413.4 2156.8 1411.8 2174.4 C1410.3 2191.9 1408.6 2209.5 1406.6 2227 C1404.6 2244.5 1402.4 2262.1 1400 2279.6 C1397.6 2297.2 1394.7 2316.9 1392.1 2332.3 C1389.5 2347.6 1387.3 2356.4 1384.2 2371.7 C1381.1 2387.1 1377.6 2406.8 1373.7 2424.4 C1369.7 2441.9 1364.9 2459.5 1360.5 2477 C1356.1 2494.5 1351.8 2513 1347.4 2529.6 C1343 2546.3 1338.6 2563 1334.2 2577 C1329.8 2591 1325.9 2602.4 1321.1 2613.8 C1316.2 2625.2 1311 2636.6 1305.3 2645.4 C1299.6 2654.2 1289.9 2663 1286.8 2666.5"/>
<path d="M1447.4 2088.8 C1446.9 2096.5 1445.8 2118.4 1444.7 2134.9 C1443.6 2151.3 1442.3 2170 1440.8 2187.5 C1439.3 2205.1 1437.5 2222.6 1435.5 2240.2 C1433.6 2257.7 1431.4 2275.2 1428.9 2292.8 C1426.5 2310.3 1423.7 2327.9 1421.1 2345.4 C1418.4 2363 1416.2 2380.5 1413.2 2398.1 C1410.1 2415.6 1406.1 2433.1 1402.6 2450.7 C1399.1 2468.2 1396.1 2485.8 1392.1 2503.3 C1388.2 2520.9 1383.3 2540.2 1378.9 2555.9 C1374.6 2571.7 1370.6 2584.5 1365.8 2598.1 C1361 2611.6 1355.7 2626.6 1350 2637.5 C1344.3 2648.5 1334.6 2659.5 1331.6 2663.8"/>
<path d="M1460.5 2408.6 C1461.8 2415.6 1465.4 2437.1 1468.4 2450.7 C1471.5 2464.3 1475.4 2477 1478.9 2490.2 C1482.5 2503.3 1485.5 2516.5 1489.5 2529.6 C1493.4 2542.8 1497.8 2555.9 1502.6 2569.1 C1507.5 2582.3 1512.7 2595.9 1518.4 2608.6 C1524.1 2621.3 1530.3 2634.9 1536.8 2645.4 C1543.4 2655.9 1554.4 2667.4 1557.9 2671.7"/>
<path d="M1515.8 2300.7 C1516.4 2308.1 1518.2 2329.2 1519.7 2345.4 C1521.3 2361.6 1523 2380.5 1525 2398.1 C1527 2415.6 1529.2 2435.3 1531.6 2450.7 C1534 2466 1536.8 2477 1539.5 2490.2 C1542.1 2503.3 1543.9 2516.5 1547.4 2529.6 C1550.9 2542.8 1555.7 2555.9 1560.5 2569.1 C1565.4 2582.3 1570.2 2595.9 1576.3 2608.6 C1582.5 2621.3 1593.9 2639.3 1597.4 2645.4"/>
<path d="M1442.1 2544.1 C1439.9 2548.3 1433.8 2560.6 1428.9 2569.1 C1424.1 2577.7 1418 2587.1 1413.2 2595.4 C1408.3 2603.8 1405.3 2610.8 1400 2619.1 C1394.7 2627.4 1388.2 2637.5 1381.6 2645.4 C1375 2653.3 1364 2663 1360.5 2666.5"/>
<path d="M1203.9 2483.6 C1202.9 2489.1 1199.8 2504.4 1197.4 2516.5 C1195 2528.5 1192.5 2544.1 1189.5 2555.9 C1186.4 2567.8 1182.9 2576.1 1178.9 2587.5 C1175 2598.9 1170.6 2613.8 1165.8 2624.4 C1161 2634.9 1152.6 2646.3 1150 2650.7"/>
<path d="M1595.5 2230.9 C1595.1 2239.5 1594.2 2264.9 1592.9 2282.3 C1591.6 2299.6 1589.6 2317.4 1587.6 2334.9 C1585.7 2352.4 1583.7 2370 1581.1 2387.5 C1578.4 2405.1 1575.4 2422.6 1571.8 2440.2 C1568.3 2457.7 1564.2 2475.2 1560 2492.8 C1555.8 2510.3 1551.7 2527.9 1546.8 2545.4 C1542 2563 1536.8 2582.7 1531.1 2598.1 C1525.4 2613.4 1519.2 2626.6 1512.6 2637.5 C1506.1 2648.5 1495.1 2659.5 1491.6 2663.8"/>
<path d="M1665.3 2366.5 C1664.6 2374.4 1663.1 2397.2 1661.3 2413.8 C1659.6 2430.5 1657.6 2448.9 1654.7 2466.5 C1651.9 2484 1648.2 2503.8 1644.2 2519.1 C1640.3 2534.5 1636.3 2545.4 1631.1 2558.6 C1625.8 2571.7 1618.8 2584.9 1612.6 2598.1 C1606.5 2611.2 1600.4 2625.2 1594.2 2637.5 C1588.1 2649.8 1578.9 2666 1575.8 2671.7"/>
<path d="M1665.3 2541.5 C1666.6 2546.5 1670.1 2560.1 1673.2 2571.7 C1676.2 2583.4 1679.7 2598.1 1683.7 2611.2 C1687.6 2624.4 1692 2637.5 1696.8 2650.7 C1701.7 2663.8 1710 2683.6 1712.6 2690.2"/>
<path d="M1585 2565.2 C1587 2569.8 1592.2 2582.9 1596.8 2592.8 C1601.4 2602.7 1606.9 2614.7 1612.6 2624.4 C1618.3 2634 1624.5 2641.9 1631.1 2650.7 C1637.6 2659.5 1648.6 2672.6 1652.1 2677"/>
<path d="M1741.6 2467.8 C1742.2 2476.3 1744 2501.8 1745.5 2519.1 C1747.1 2536.4 1748.6 2554.2 1750.8 2571.7 C1753 2589.3 1755.4 2609 1758.7 2624.4 C1762 2639.7 1765.9 2653.8 1770.5 2663.8 C1775.1 2673.9 1783.7 2681.4 1786.3 2684.9"/>
<path d="M1836.3 2505.9 C1835.7 2512.5 1834.1 2532.3 1832.4 2545.4 C1830.6 2558.6 1828.4 2571.7 1825.8 2584.9 C1823.2 2598.1 1820.1 2612.1 1816.6 2624.4 C1813.1 2636.6 1808.9 2648.9 1804.7 2658.6 C1800.6 2668.2 1793.8 2678.3 1791.6 2682.3"/>
<path d="M1848.2 2609.9 C1848.8 2614.5 1850.1 2626.3 1852.1 2637.5 C1854.1 2648.7 1856.5 2665.2 1860 2677 C1863.5 2688.8 1867.9 2699.8 1873.2 2708.6 C1878.4 2717.4 1884.6 2724.8 1891.6 2729.6 C1898.6 2734.5 1911.3 2736.2 1915.3 2737.5"/>
<path d="M1952.1 2549.4 C1952.8 2555.3 1954.5 2572.4 1956.1 2584.9 C1957.6 2597.4 1959.6 2611.2 1961.3 2624.4 C1963.1 2637.5 1964.4 2652.4 1966.6 2663.8 C1968.8 2675.2 1971.2 2684.5 1974.5 2692.8 C1977.8 2701.1 1981.7 2708.6 1986.3 2713.8 C1990.9 2719.1 1999.5 2722.6 2002.1 2724.4"/>
<path d="M1730.5 2646.7 L1732.4 2677"/>
</g>
<polygon fill="#fff" points="880.8,2500.7 887.4,2503.3 896.6,2532.3 892.6,2534.9"/>
<polygon fill="#00ff00" points="968.9,2566.5 982.1,2587.5 1000.5,2629.6 987.4,2621.7 971.6,2592.8"/>
<polygon fill="#00ff00" points="1088.7,2537.5 1079.5,2571.7 1063.7,2619.1 1079.5,2619.1 1105.8,2632.3 1113.7,2611.2 1103.2,2571.7"/>
<polygon fill="#00ff00" points="897.9,2600.7 905.8,2613.8 892.6,2624.4 891.3,2613.8"/>
<polygon fill="#00ff00" points="1029.5,2623.1 1013.7,2598.1 1022.9,2587.5 1037.4,2598.1"/>
<polygon fill="#00ff00" points="1186.8,2582.3 1171.1,2613.8 1192.1,2637.5 1202.6,2621.7"/>
<polygon fill="#00ff00" points="1165.8,2542.8 1175,2545.4 1155.3,2587.5 1153.9,2577"/>
<polygon fill="#00ff00" points="1202.6,2545.4 1214.5,2544.1 1215.8,2571.7 1217.1,2590.2 1206.6,2566.5"/>
<polygon fill="#00ff00" points="1300,2400.7 1310.5,2463.8 1307.9,2492.8 1297.4,2532.3 1278.9,2584.9 1260.5,2619.1 1244.7,2637.5 1265.8,2587.5 1284.2,2532.3 1297.4,2479.6 1298.7,2440.2"/>
<polygon fill="#00ff00" points="1323.7,2519.1 1338.2,2566.5 1328.9,2592.8 1307.9,2629.6 1278.9,2648.1 1300,2608.6 1318.4,2558.6"/>
<polygon fill="#fff" points="1268.4,2658.6 1276.3,2640.2 1300,2637.5 1286.8,2655.9"/>
<polygon fill="#ff0000" points="1268.4,2658.6 1273.7,2648.1 1281.6,2650.7 1278.9,2658.1"/>
<polygon fill="#00ff00" points="1355.3,2348.1 1373.7,2413.8 1350,2524.4 1334.2,2461.2"/>
<polygon fill="#00ff00" points="1397.4,2542.8 1405.3,2563.8 1381.6,2598.1 1389.5,2566.5"/>
<polygon fill="#fff" points="1381.6,2648.1 1402.6,2666.5 1376.3,2679.6 1352.6,2674.4"/>
<polygon fill="#ff0000" points="1381.6,2648.1 1397.4,2663.8 1378.9,2677 1375,2663.8"/>
<polygon fill="#00ff00" points="1415.8,2598.1 1442.1,2642.8 1413.2,2640.2 1400,2624.4"/>
<polygon fill="#00ff00" points="1452.6,2527 1432.9,2566.5 1469.7,2632.3 1498.7,2598.1 1481.6,2550.7 1465.8,2513.8"/>
<polygon fill="#ff0000" points="1456.6,2557.3 1464.5,2552 1476.3,2579.6 1469.7,2584.9"/>
<polygon fill="#00ff00" points="1502.6,2640.2 1513.2,2624.4 1523.7,2640.2"/>
<polygon fill="#00ff00" points="1526.3,2674.4 1543.4,2661.2 1552.6,2669.1"/>
<polygon fill="#00ff00" points="1542.1,2571.7 1555.3,2613.8 1547.4,2619.1 1528.9,2598.1"/>
<polygon fill="#00ff00" points="1594.2,2613.8 1604.7,2624.4 1623.2,2671.7 1612.6,2666.5 1586.3,2621.7"/>
<polygon fill="#00ff00" points="1625.8,2677 1641.6,2682.3 1628.4,2686.2"/>
<polygon fill="#00ff00" points="1673.2,2674.4 1696.8,2675.7 1695.5,2682.3 1678.4,2682.3"/>
<polygon fill="#00ff00" points="1560,2519.1 1573.2,2566.5 1575.8,2595.4 1560,2587.5"/>
</g>
<rect x="342" y="1585.1" width="1661" height="1182.6" fill="none" stroke="#3c3c3c" stroke-width="4.4" style="mix-blend-mode:multiply"/>
<g font-size="64" fill="#000" stroke="#000" stroke-width="0.9" stroke-linejoin="round">
<text x="303.5" y="2788.7" text-anchor="end">0</text>
<text x="303.5" y="2493" text-anchor="end">50</text>
<text x="303.5" y="2197.4" text-anchor="end">100</text>
<text x="303.5" y="1901.8" text-anchor="end">150</text>
<text x="303.5" y="1606.1" text-anchor="end">200</text>
<text x="350" y="2853.2" text-anchor="middle">0</text>
<text x="626.8" y="2853.2" text-anchor="middle">4</text>
<text x="903.7" y="2853.2" text-anchor="middle">8</text>
<text x="1180.5" y="2853.2" text-anchor="middle">12</text>
<text x="1457.3" y="2853.2" text-anchor="middle">16</text>
<text x="1734.2" y="2853.2" text-anchor="middle">20</text>
<text x="2011" y="2853.2" text-anchor="middle">24</text>
<text x="1172.5" y="2948.2" text-anchor="middle" font-size="64.3">Universal Time (hours of DoY 274 2019)</text>
<text transform="translate(101.5 2176.9) rotate(-90)" text-anchor="middle" font-size="64.35">Slant Total Electron Content (TECUs)</text>
</g>
<g>
<rect x="379.8" y="1604" width="746.2" height="255.6" fill="#fff" stroke="#707070" stroke-width="3"/>
<path d="M379.8 1668 H1126" stroke="#707070" stroke-width="3" fill="none"/>
<g font-size="64" fill="#000" stroke="#000" stroke-width="0.9" stroke-linejoin="round">
<text x="753" y="1657.6" text-anchor="middle">EBRE</text>
<text x="877.5" y="1715.3" text-anchor="end">L<tspan font-size="51" dy="19">GF</tspan><tspan dy="-19">-&lt;B</tspan><tspan font-size="51" dy="19">GF</tspan><tspan dy="-19">&gt;</tspan></text>
<text x="877.5" y="1785" text-anchor="end">Klobuchar</text>
<text x="877.5" y="1848.2" text-anchor="end">NeQuick-G JRC</text>
</g>
<path d="M993 1700.8 h18 M1002 1691.8 v18" stroke="#ff0000" stroke-width="2.8" stroke-opacity="0.8" fill="none"/>
<path d="M993 1755.7 l18 18 M993 1773.7 l18 -18" stroke="#00ff00" stroke-width="2.8" stroke-opacity="0.9" fill="none"/>
<path d="M993 1828.4 h18 M1002 1819.4 v18 M993 1819.4 l18 18 M993 1837.4 l18 -18" stroke="#0000ff" stroke-width="2.8" stroke-opacity="0.95" fill="none"/>
</g>
</g>
</svg></body></html>
